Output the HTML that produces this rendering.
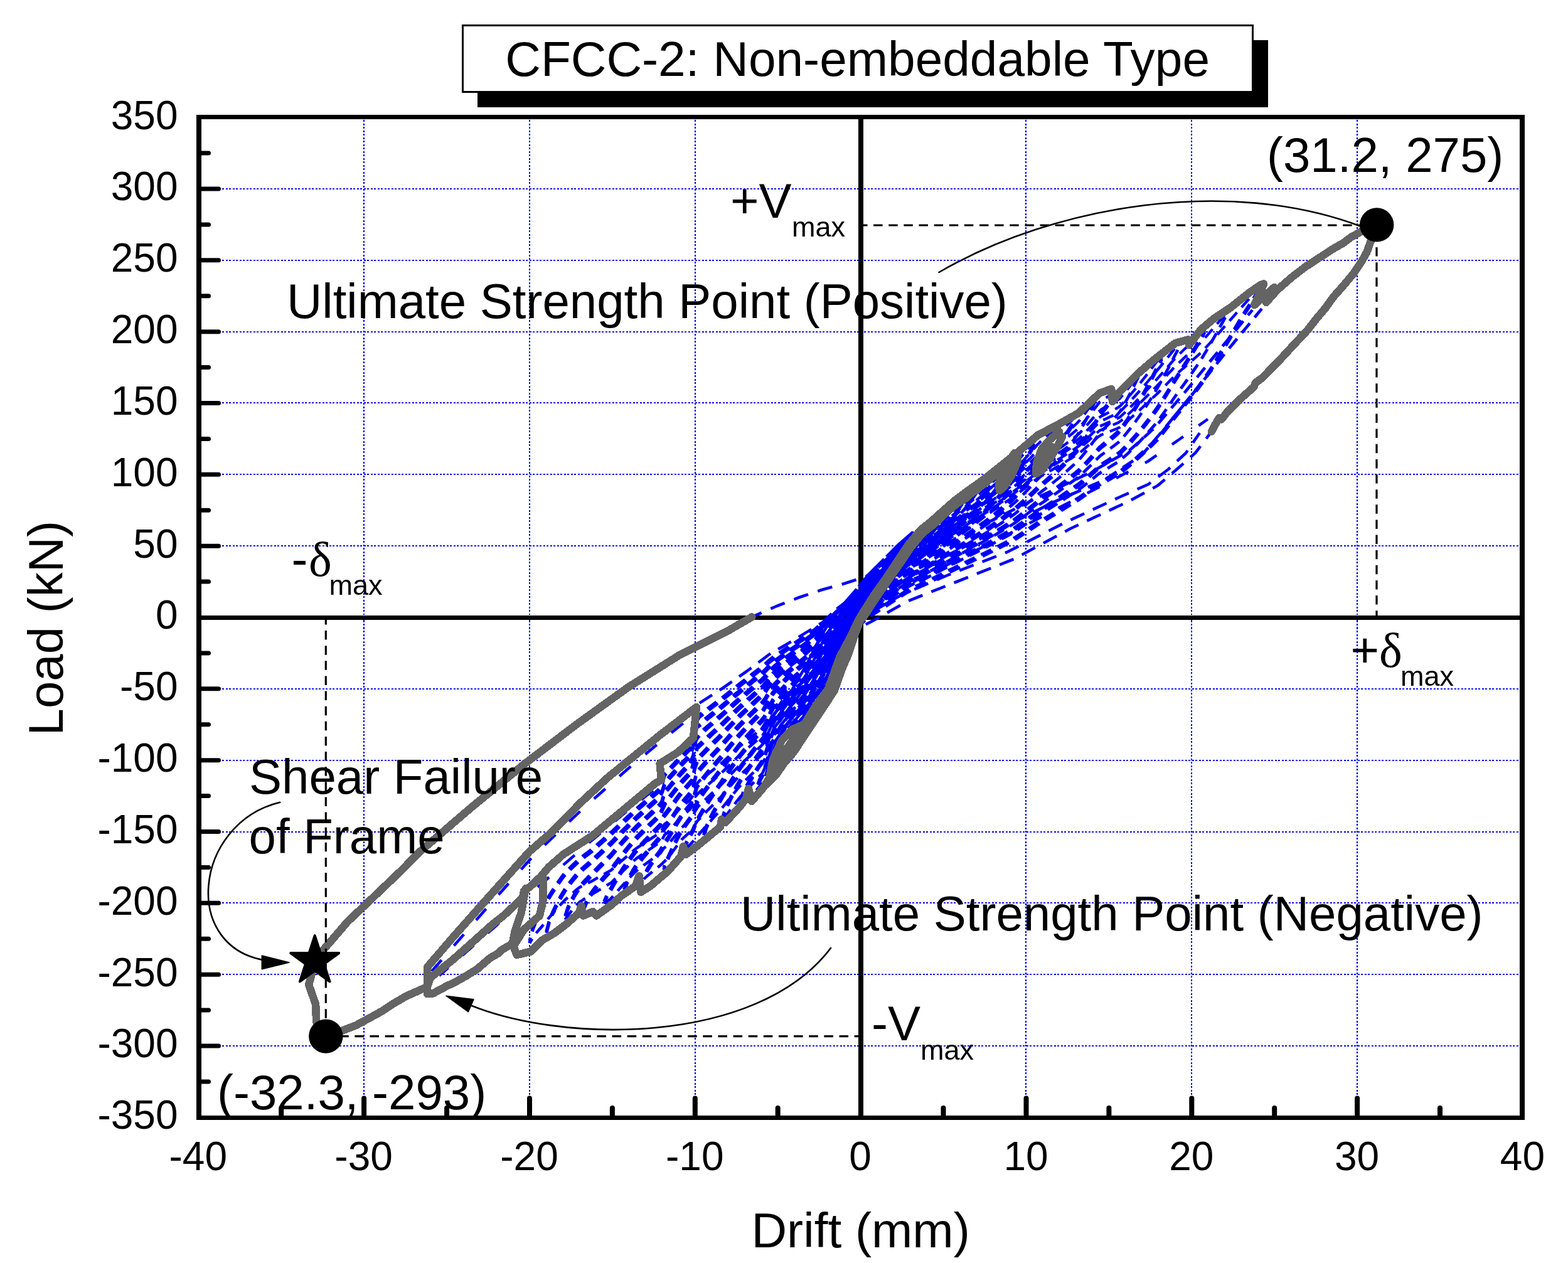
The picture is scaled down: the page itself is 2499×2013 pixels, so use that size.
<!DOCTYPE html>
<html lang="en"><head><meta charset="utf-8"><title>CFCC-2: Non-embeddable Type</title>
<style>html,body{margin:0;padding:0;background:#fff;}svg{display:block;}text{font-family:"Liberation Sans",Arial,sans-serif;fill:#000;}.t78{font-size:78px}.tt{font-size:78.4px}.t64{font-size:64px}.t45{font-size:45px}.sy{font-family:"Liberation Serif","DejaVu Serif",serif;font-size:78px}</style></head><body>
<svg xmlns="http://www.w3.org/2000/svg" width="2499" height="2013" viewBox="0 0 2499 2013">
<rect x="0" y="0" width="2499" height="2013" fill="#fff"/>
<path d="M580 191.0V1746.5M844 191.0V1746.5M1108 191.0V1746.5M1635 191.0V1746.5M1899 191.0V1746.5M2163 191.0V1746.5M354.0 1667H2422.0M354.0 1553H2422.0M354.0 1439H2422.0M354.0 1326H2422.0M354.0 1212H2422.0M354.0 1098H2422.0M354.0 870H2422.0M354.0 756H2422.0M354.0 642H2422.0M354.0 529H2422.0M354.0 415H2422.0M354.0 301H2422.0" fill="none" stroke="#0000ff" stroke-width="2" stroke-dasharray="3 2.5" shape-rendering="crispEdges"/>
<rect x="317.0" y="981" width="2109.0" height="7" fill="#000"/><rect x="1368" y="186.5" width="8" height="1595.0" fill="#000"/>
<g fill="none" stroke="#0000ff" stroke-width="4.6" stroke-linejoin="round">
<path d="M1403.3 903.5L1398.3 910.4L1393.3 917.0L1388.3 923.3L1383.3 929.3L1378.3 942.2L1373.3 957.0" stroke-dasharray="18 11" stroke-dashoffset="18" stroke-width="4.8"/>
<path d="M1403.3 907.5L1398.3 914.4L1393.3 921.0L1388.3 927.3L1383.3 933.3L1378.3 946.2L1373.3 961.0" stroke-dasharray="18 11" stroke-dashoffset="21" stroke-width="4.4"/>
<path d="M1398.0 908.6L1393.0 914.2L1388.0 919.7L1383.0 925.1L1378.0 938.6L1373.0 954.0" stroke-dasharray="18 11" stroke-dashoffset="22" stroke-width="4.4"/>
<path d="M1424.4 881.9L1419.4 889.6L1414.4 896.9L1409.4 903.8L1404.4 910.0L1399.4 916.0L1394.4 921.8L1389.4 927.3L1384.4 932.7L1379.4 942.6L1374.4 956.5" stroke-dasharray="18 11" stroke-dashoffset="23" stroke-width="4.8"/>
<path d="M1419.1 887.4L1414.1 893.6L1409.1 899.6L1404.1 905.1L1399.1 910.5L1394.1 915.8L1389.1 921.0L1384.1 926.2L1379.1 937.1L1374.1 952.0" stroke-dasharray="18 11" stroke-dashoffset="27" stroke-width="4.4"/>
<path d="M1445.5 862.6L1440.5 869.6L1435.5 876.3L1430.5 882.7L1425.5 889.5L1420.5 896.1L1415.5 902.5L1410.5 908.6L1405.5 914.2L1400.5 919.6L1395.5 924.9L1390.5 930.1L1385.5 935.1L1380.5 942.5L1375.5 955.7" stroke-dasharray="18 11" stroke-dashoffset="21" stroke-width="4.8"/>
<path d="M1445.5 866.6L1440.5 873.6L1435.5 880.3L1430.5 886.7L1425.5 893.5L1420.5 900.1L1415.5 906.5L1410.5 912.6L1405.5 918.2L1400.5 923.6L1395.5 928.9L1390.5 934.1L1385.5 939.1L1380.5 946.5L1375.5 959.7" stroke-dasharray="18 11" stroke-dashoffset="24" stroke-width="4.4"/>
<path d="M1440.2 867.1L1435.2 872.5L1430.2 877.8L1425.2 883.8L1420.2 889.7L1415.2 895.5L1410.2 901.3L1405.2 906.5L1400.2 911.7L1395.2 916.8L1390.2 921.9L1385.2 926.9L1380.2 935.3L1375.2 949.9" stroke-dasharray="18 11" stroke-dashoffset="27" stroke-width="4.4"/>
<path d="M1466.6 850.0L1461.6 854.7L1456.6 859.6L1451.6 865.7L1446.6 871.5L1441.6 877.3L1436.6 883.1L1431.6 888.7L1426.6 894.6L1421.6 900.5L1416.6 906.3L1411.6 911.9L1406.6 917.2L1401.6 922.2L1396.6 927.2L1391.6 932.0L1386.6 936.8L1381.6 942.2L1376.6 954.8L1371.6 966.4" stroke-dasharray="18 11" stroke-dashoffset="1" stroke-width="4.8"/>
<path d="M1461.3 851.8L1456.3 855.4L1451.3 860.3L1446.3 865.0L1441.3 870.0L1436.3 875.1L1431.3 880.0L1426.3 885.5L1421.3 891.2L1416.3 896.8L1411.3 902.3L1406.3 907.5L1401.3 912.5L1396.3 917.5L1391.3 922.4L1386.3 927.3L1381.3 933.4L1376.3 947.7" stroke-dasharray="18 11" stroke-dashoffset="14" stroke-width="4.4"/>
<path d="M1490.4 830.6L1485.4 838.3L1480.4 845.1L1475.4 851.6L1470.4 857.7L1465.4 862.8L1460.4 866.4L1455.4 870.8L1450.4 875.8L1445.4 880.6L1440.4 885.8L1435.4 890.9L1430.4 895.8L1425.4 901.3L1420.4 906.7L1415.4 912.0L1410.4 917.2L1405.4 922.0L1400.4 926.8L1395.4 931.4L1390.4 936.1L1385.4 940.6L1380.4 947.6L1375.4 959.8" stroke-dasharray="18 11" stroke-dashoffset="27" stroke-width="4.8"/>
<path d="M1490.4 834.6L1485.4 842.3L1480.4 849.1L1475.4 855.6L1470.4 861.7L1465.4 866.8L1460.4 870.4L1455.4 874.8L1450.4 879.8L1445.4 884.6L1440.4 889.8L1435.4 894.9L1430.4 899.8L1425.4 905.3L1420.4 910.7L1415.4 916.0L1410.4 921.2L1405.4 926.0L1400.4 930.8L1395.4 935.4L1390.4 940.1L1385.4 944.6L1380.4 951.6L1375.4 963.8" stroke-dasharray="18 11" stroke-dashoffset="30" stroke-width="4.4"/>
<path d="M1485.1 835.3L1480.1 840.6L1475.1 845.7L1470.1 850.7L1465.1 854.7L1460.1 857.3L1455.1 861.0L1450.1 865.5L1445.1 869.9L1440.1 874.7L1435.1 879.4L1430.1 884.1L1425.1 889.6L1420.1 895.0L1415.1 900.4L1410.1 905.7L1405.1 910.6L1400.1 915.5L1395.1 920.3L1390.1 925.1L1385.1 929.9L1380.1 938.2L1375.1 952.2" stroke-dasharray="18 11" stroke-dashoffset="19" stroke-width="4.4"/>
<path d="M1514.1 810.1L1509.1 817.8L1504.1 825.0L1499.1 832.3L1494.1 839.1L1489.1 845.6L1484.1 851.7L1479.1 857.2L1474.1 862.5L1469.1 867.6L1464.1 871.5L1459.1 874.5L1454.1 878.6L1449.1 883.0L1444.1 887.4L1439.1 892.2L1434.1 896.8L1429.1 901.5L1424.1 906.6L1419.1 911.7L1414.1 916.7L1409.1 921.6L1404.1 926.1L1399.1 930.7L1394.1 935.2L1389.1 939.6L1384.1 944.0L1379.1 952.6L1374.1 964.3" stroke-dasharray="18 11" stroke-dashoffset="26" stroke-width="4.8"/>
<path d="M1508.8 814.4L1503.8 819.9L1498.8 825.6L1493.8 831.2L1488.8 836.6L1483.8 841.8L1478.8 846.6L1473.8 851.3L1468.8 855.9L1463.8 859.0L1458.8 861.4L1453.8 865.4L1448.8 869.6L1443.8 873.9L1438.8 878.5L1433.8 883.0L1428.8 887.8L1423.8 893.1L1418.8 898.3L1413.8 903.5L1408.8 908.6L1403.8 913.4L1398.8 918.2L1393.8 922.9L1388.8 927.6L1383.8 932.3L1378.8 942.8L1373.8 956.5" stroke-dasharray="18 11" stroke-dashoffset="3" stroke-width="4.4"/>
<path d="M1540.5 788.7L1535.5 796.7L1530.5 804.3L1525.5 811.5L1520.5 818.3L1515.5 824.8L1510.5 830.9L1505.5 836.8L1500.5 842.7L1495.5 848.4L1490.5 854.0L1485.5 859.3L1480.5 864.1L1475.5 868.7L1470.5 873.2L1465.5 877.1L1460.5 879.7L1455.5 883.1L1450.5 887.1L1445.5 891.0L1440.5 895.4L1435.5 899.8L1430.5 904.1L1425.5 909.0L1420.5 913.8L1415.5 918.6L1410.5 923.3L1405.5 927.8L1400.5 932.2L1395.5 936.5L1390.5 940.8L1385.5 945.1L1380.5 951.5L1375.5 962.7" stroke-dasharray="18 11" stroke-dashoffset="14" stroke-width="4.8"/>
<path d="M1540.5 792.7L1535.5 800.7L1530.5 808.3L1525.5 815.5L1520.5 822.3L1515.5 828.8L1510.5 834.9L1505.5 840.8L1500.5 846.7L1495.5 852.4L1490.5 858.0L1485.5 863.3L1480.5 868.1L1475.5 872.7L1470.5 877.2L1465.5 881.1L1460.5 883.7L1455.5 887.1L1450.5 891.1L1445.5 895.0L1440.5 899.4L1435.5 903.8L1430.5 908.1L1425.5 913.0L1420.5 917.8L1415.5 922.6L1410.5 927.3L1405.5 931.8L1400.5 936.2L1395.5 940.5L1390.5 944.8L1385.5 949.1L1380.5 955.5L1375.5 966.7" stroke-dasharray="18 11" stroke-dashoffset="17" stroke-width="4.4"/>
<path d="M1535.2 793.0L1530.2 798.6L1525.2 804.0L1520.2 809.3L1515.2 814.5L1510.2 819.6L1505.2 824.5L1500.2 829.7L1495.2 834.8L1490.2 839.9L1485.2 844.8L1480.2 849.3L1475.2 853.7L1470.2 858.1L1465.2 861.6L1460.2 863.9L1455.2 867.1L1450.2 871.1L1445.2 875.2L1440.2 879.6L1435.2 884.1L1430.2 888.5L1425.2 893.6L1420.2 898.7L1415.2 903.9L1410.2 908.9L1405.2 913.7L1400.2 918.3L1395.2 923.0L1390.2 927.6L1385.2 932.3L1380.2 940.1L1375.2 953.6" stroke-dasharray="18 11" stroke-dashoffset="7" stroke-width="4.4"/>
<path d="M1566.9 769.4L1561.9 777.4L1556.9 784.9L1551.9 792.0L1546.9 798.7L1541.9 805.1L1536.9 811.6L1531.9 817.7L1526.9 823.6L1521.9 829.3L1516.9 834.8L1511.9 840.0L1506.9 845.0L1501.9 850.1L1496.9 855.1L1491.9 860.0L1486.9 864.8L1481.9 869.2L1476.9 873.4L1471.9 877.5L1466.9 881.5L1461.9 883.9L1456.9 886.6L1451.9 890.3L1446.9 894.0L1441.9 898.1L1436.9 902.3L1431.9 906.4L1426.9 910.9L1421.9 915.6L1416.9 920.2L1411.9 924.8L1406.9 929.2L1401.9 933.5L1396.9 937.7L1391.9 941.9L1386.9 946.1L1381.9 950.5L1376.9 961.3L1371.9 971.8" stroke-dasharray="18 11" stroke-dashoffset="16" stroke-width="4.8"/>
<path d="M1561.6 773.2L1556.6 778.5L1551.6 783.7L1546.6 788.7L1541.6 793.6L1536.6 798.8L1531.6 803.9L1526.6 808.8L1521.6 813.7L1516.6 818.5L1511.6 823.2L1506.6 827.8L1501.6 832.6L1496.6 837.5L1491.6 842.3L1486.6 847.0L1481.6 851.3L1476.6 855.6L1471.6 859.8L1466.6 863.7L1461.6 865.8L1456.6 868.5L1451.6 872.4L1446.6 876.2L1441.6 880.5L1436.6 884.8L1431.6 889.1L1426.6 894.0L1421.6 899.0L1416.6 904.0L1411.6 909.0L1406.6 913.8L1401.6 918.4L1396.6 923.0L1391.6 927.6L1386.6 932.2L1381.6 937.4L1376.6 950.8L1371.6 963.0" stroke-dasharray="18 11" stroke-dashoffset="17" stroke-width="4.4"/>
<path d="M1593.2 749.1L1588.2 757.8L1583.2 766.0L1578.2 773.7L1573.2 780.7L1568.2 787.4L1563.2 793.8L1558.2 799.9L1553.2 805.7L1548.2 811.3L1543.2 816.6L1538.2 822.0L1533.2 827.3L1528.2 832.4L1523.2 837.3L1518.2 842.1L1513.2 846.7L1508.2 851.2L1503.2 855.7L1498.2 860.2L1493.2 864.7L1488.2 869.1L1483.2 873.2L1478.2 877.2L1473.2 881.0L1468.2 884.8L1463.2 887.4L1458.2 889.7L1453.2 893.1L1448.2 896.6L1443.2 900.4L1438.2 904.5L1433.2 908.5L1428.2 912.7L1423.2 917.2L1418.2 921.7L1413.2 926.2L1408.2 930.5L1403.2 934.7L1398.2 938.9L1393.2 943.0L1388.2 947.1L1383.2 951.2L1378.2 960.1L1373.2 970.5" stroke-dasharray="18 11" stroke-dashoffset="0" stroke-width="4.8"/>
<path d="M1593.2 753.1L1588.2 761.8L1583.2 770.0L1578.2 777.7L1573.2 784.7L1568.2 791.4L1563.2 797.8L1558.2 803.9L1553.2 809.7L1548.2 815.3L1543.2 820.6L1538.2 826.0L1533.2 831.3L1528.2 836.4L1523.2 841.3L1518.2 846.1L1513.2 850.7L1508.2 855.2L1503.2 859.7L1498.2 864.2L1493.2 868.7L1488.2 873.1L1483.2 877.2L1478.2 881.2L1473.2 885.0L1468.2 888.8L1463.2 891.4L1458.2 893.7L1453.2 897.1L1448.2 900.6L1443.2 904.4L1438.2 908.5L1433.2 912.5L1428.2 916.7L1423.2 921.2L1418.2 925.7L1413.2 930.2L1408.2 934.5L1403.2 938.7L1398.2 942.9L1393.2 947.0L1388.2 951.1L1383.2 955.2L1378.2 964.1L1373.2 974.5" stroke-dasharray="18 11" stroke-dashoffset="3" stroke-width="4.4"/>
<path d="M1588.0 753.3L1583.0 759.1L1578.0 764.7L1573.0 769.9L1568.0 774.9L1563.0 779.8L1558.0 784.6L1553.0 789.3L1548.0 793.9L1543.0 798.4L1538.0 803.0L1533.0 807.8L1528.0 812.4L1523.0 817.0L1518.0 821.5L1513.0 826.0L1508.0 830.4L1503.0 834.8L1498.0 839.5L1493.0 844.1L1488.0 848.6L1483.0 852.9L1478.0 857.0L1473.0 861.1L1468.0 865.1L1463.0 867.5L1458.0 869.6L1453.0 873.3L1448.0 877.1L1443.0 881.1L1438.0 885.4L1433.0 889.7L1428.0 894.2L1423.0 899.2L1418.0 904.1L1413.0 909.1L1408.0 913.9L1403.0 918.4L1398.0 923.0L1393.0 927.5L1388.0 932.0L1383.0 936.5L1378.0 948.0L1373.0 961.1" stroke-dasharray="18 11" stroke-dashoffset="6" stroke-width="4.4"/>
<path d="M1619.6 727.9L1614.6 737.0L1609.6 745.6L1604.6 753.7L1599.6 761.4L1594.6 768.7L1589.6 775.7L1584.6 782.4L1579.6 788.8L1574.6 794.6L1569.6 800.2L1564.6 805.6L1559.6 810.8L1554.6 815.7L1549.6 820.5L1544.6 825.2L1539.6 829.8L1534.6 834.5L1529.6 839.1L1524.6 843.5L1519.6 847.8L1514.6 852.0L1509.6 856.2L1504.6 860.2L1499.6 864.4L1494.6 868.6L1489.6 872.7L1484.6 876.7L1479.6 880.4L1474.6 884.0L1469.6 887.6L1464.6 890.5L1459.6 892.7L1454.6 895.6L1449.6 899.0L1444.6 902.5L1439.6 906.4L1434.6 910.4L1429.6 914.3L1424.6 918.7L1419.6 923.1L1414.6 927.5L1409.6 931.8L1404.6 935.9L1399.6 940.0L1394.6 944.0L1389.6 948.1L1384.6 952.1L1379.6 959.0L1374.6 969.0" stroke-dasharray="18 11" stroke-dashoffset="8" stroke-width="4.8"/>
<path d="M1614.4 732.2L1609.4 738.1L1604.4 743.9L1599.4 749.5L1594.4 755.0L1589.4 760.4L1584.4 765.7L1579.4 770.8L1574.4 775.6L1569.4 780.2L1564.4 784.7L1559.4 789.1L1554.4 793.5L1549.4 797.8L1544.4 802.0L1539.4 806.3L1534.4 810.8L1529.4 815.2L1524.4 819.6L1519.4 823.9L1514.4 828.2L1509.4 832.4L1504.4 836.6L1499.4 841.1L1494.4 845.5L1489.4 849.9L1484.4 854.2L1479.4 858.2L1474.4 862.1L1469.4 866.0L1464.4 868.9L1459.4 870.9L1454.4 874.2L1449.4 877.9L1444.4 881.7L1439.4 885.9L1434.4 890.1L1429.4 894.4L1424.4 899.3L1419.4 904.2L1414.4 909.1L1409.4 913.9L1404.4 918.4L1399.4 922.9L1394.4 927.4L1389.4 931.9L1384.4 936.4L1379.4 945.3L1374.4 958.2" stroke-dasharray="18 11" stroke-dashoffset="27" stroke-width="4.4"/>
<path d="M1651.3 701.0L1646.3 710.6L1641.3 719.8L1636.3 728.6L1631.3 736.9L1626.3 745.0L1621.3 752.6L1616.3 759.9L1611.3 766.7L1606.3 773.1L1601.3 779.3L1596.3 785.2L1591.3 790.9L1586.3 796.4L1581.3 801.7L1576.3 806.8L1571.3 811.5L1566.3 816.1L1561.3 820.5L1556.3 824.8L1551.3 829.1L1546.3 833.2L1541.3 837.2L1536.3 841.4L1531.3 845.5L1526.3 849.5L1521.3 853.4L1516.3 857.3L1511.3 861.1L1506.3 864.9L1501.3 868.7L1496.3 872.6L1491.3 876.4L1486.3 880.2L1481.3 883.8L1476.3 887.2L1471.3 890.6L1466.3 893.8L1461.3 895.9L1456.3 898.4L1451.3 901.6L1446.3 904.9L1441.3 908.7L1436.3 912.5L1431.3 916.3L1426.3 920.4L1421.3 924.7L1416.3 929.0L1411.3 933.2L1406.3 937.3L1401.3 941.2L1396.3 945.2L1391.3 949.2L1386.3 953.1L1381.3 957.9L1376.3 967.5" stroke-dasharray="18 11" stroke-dashoffset="22" stroke-width="4.8"/>
<path d="M1651.3 705.0L1646.3 714.6L1641.3 723.8L1636.3 732.6L1631.3 740.9L1626.3 749.0L1621.3 756.6L1616.3 763.9L1611.3 770.7L1606.3 777.1L1601.3 783.3L1596.3 789.2L1591.3 794.9L1586.3 800.4L1581.3 805.7L1576.3 810.8L1571.3 815.5L1566.3 820.1L1561.3 824.5L1556.3 828.8L1551.3 833.1L1546.3 837.2L1541.3 841.2L1536.3 845.4L1531.3 849.5L1526.3 853.5L1521.3 857.4L1516.3 861.3L1511.3 865.1L1506.3 868.9L1501.3 872.7L1496.3 876.6L1491.3 880.4L1486.3 884.2L1481.3 887.8L1476.3 891.2L1471.3 894.6L1466.3 897.8L1461.3 899.9L1456.3 902.4L1451.3 905.6L1446.3 908.9L1441.3 912.7L1436.3 916.5L1431.3 920.3L1426.3 924.4L1421.3 928.7L1416.3 933.0L1411.3 937.2L1406.3 941.3L1401.3 945.2L1396.3 949.2L1391.3 953.2L1386.3 957.1L1381.3 961.9L1376.3 971.5" stroke-dasharray="18 11" stroke-dashoffset="25" stroke-width="4.4"/>
<path d="M1646.0 705.5L1641.0 711.8L1636.0 717.9L1631.0 724.0L1626.0 729.9L1621.0 735.7L1616.0 741.3L1611.0 746.6L1606.0 751.8L1601.0 756.8L1596.0 761.8L1591.0 766.7L1586.0 771.5L1581.0 776.2L1576.0 780.7L1571.0 785.0L1566.0 789.2L1561.0 793.3L1556.0 797.4L1551.0 801.5L1546.0 805.4L1541.0 809.4L1536.0 813.7L1531.0 817.9L1526.0 822.0L1521.0 826.2L1516.0 830.3L1511.0 834.3L1506.0 838.4L1501.0 842.6L1496.0 846.9L1491.0 851.2L1486.0 855.5L1481.0 859.4L1476.0 863.2L1471.0 867.0L1466.0 870.4L1461.0 872.4L1456.0 875.0L1451.0 878.7L1446.0 882.3L1441.0 886.4L1436.0 890.5L1431.0 894.7L1426.0 899.3L1421.0 904.2L1416.0 909.0L1411.0 913.8L1406.0 918.3L1401.0 922.8L1396.0 927.3L1391.0 931.7L1386.0 936.1L1381.0 942.2L1376.0 954.9" stroke-dasharray="18 11" stroke-dashoffset="5" stroke-width="4.4"/>
<path d="M1682.9 683.4L1677.9 691.6L1672.9 699.4L1667.9 706.8L1662.9 714.0L1657.9 720.9L1652.9 727.8L1647.9 735.5L1642.9 742.9L1637.9 749.9L1632.9 756.8L1627.9 763.4L1622.9 769.7L1617.9 775.9L1612.9 781.6L1607.9 787.0L1602.9 792.2L1597.9 797.2L1592.9 802.1L1587.9 806.9L1582.9 811.5L1577.9 816.0L1572.9 820.1L1567.9 824.2L1562.9 828.1L1557.9 832.0L1552.9 835.8L1547.9 839.6L1542.9 843.2L1537.9 847.0L1532.9 850.8L1527.9 854.5L1522.9 858.2L1517.9 861.8L1512.9 865.4L1507.9 868.9L1502.9 872.5L1497.9 876.1L1492.9 879.8L1487.9 883.4L1482.9 886.9L1477.9 890.2L1472.9 893.5L1467.9 896.7L1462.9 899.0L1457.9 901.0L1452.9 904.1L1447.9 907.2L1442.9 910.8L1437.9 914.5L1432.9 918.2L1427.9 922.1L1422.9 926.3L1417.9 930.4L1412.9 934.6L1407.9 938.6L1402.9 942.5L1397.9 946.4L1392.9 950.3L1387.9 954.2L1382.9 958.0L1377.9 966.3L1372.9 975.5" stroke-dasharray="18 11" stroke-dashoffset="23" stroke-width="4.8"/>
<path d="M1677.7 686.2L1672.7 691.0L1667.7 695.6L1662.7 700.2L1657.7 704.6L1652.7 709.5L1647.7 715.3L1642.7 721.0L1637.7 726.6L1632.7 732.0L1627.7 737.4L1622.7 742.7L1617.7 748.0L1612.7 752.9L1607.7 757.6L1602.7 762.3L1597.7 766.9L1592.7 771.5L1587.7 776.0L1582.7 780.4L1577.7 784.8L1572.7 788.8L1567.7 792.7L1562.7 796.7L1557.7 800.6L1552.7 804.4L1547.7 808.2L1542.7 812.0L1537.7 816.0L1532.7 820.0L1527.7 824.1L1522.7 828.1L1517.7 832.0L1512.7 836.0L1507.7 839.9L1502.7 843.9L1497.7 848.1L1492.7 852.3L1487.7 856.4L1482.7 860.4L1477.7 864.1L1472.7 867.9L1467.7 871.6L1462.7 873.8L1457.7 875.8L1452.7 879.4L1447.7 882.9L1442.7 886.8L1437.7 890.9L1432.7 895.0L1427.7 899.4L1422.7 904.2L1417.7 908.9L1412.7 913.7L1407.7 918.3L1402.7 922.7L1397.7 927.1L1392.7 931.5L1387.7 935.9L1382.7 940.2L1377.7 951.6L1372.7 964.1" stroke-dasharray="18 11" stroke-dashoffset="4" stroke-width="4.4"/>
<path d="M1714.6 665.8L1709.6 674.2L1704.6 682.3L1699.6 690.1L1694.6 697.5L1689.6 704.6L1684.6 711.3L1679.6 717.7L1674.6 723.9L1669.6 730.0L1664.6 735.8L1659.6 741.4L1654.6 746.8L1649.6 753.1L1644.6 759.3L1639.6 765.3L1634.6 771.2L1629.6 776.9L1624.6 782.4L1619.6 787.7L1614.6 792.8L1609.6 797.5L1604.6 802.1L1599.6 806.5L1594.6 810.9L1589.6 815.1L1584.6 819.3L1579.6 823.3L1574.6 827.2L1569.6 830.9L1564.6 834.5L1559.6 838.1L1554.6 841.6L1549.6 845.0L1544.6 848.5L1539.6 851.9L1534.6 855.5L1529.6 859.0L1524.6 862.4L1519.6 865.8L1514.6 869.2L1509.6 872.6L1504.6 875.9L1499.6 879.4L1494.6 882.9L1489.6 886.4L1484.6 889.8L1479.6 893.0L1474.6 896.1L1469.6 899.3L1464.6 901.9L1459.6 903.9L1454.6 906.6L1449.6 909.6L1444.6 912.8L1439.6 916.5L1434.6 920.1L1429.6 923.8L1424.6 927.8L1419.6 931.9L1414.6 936.0L1409.6 940.0L1404.6 943.8L1399.6 947.6L1394.6 951.5L1389.6 955.3L1384.6 959.0L1379.6 965.2L1374.6 974.1" stroke-dasharray="18 11" stroke-dashoffset="18" stroke-width="4.8"/>
<path d="M1714.6 669.8L1709.6 678.2L1704.6 686.3L1699.6 694.1L1694.6 701.5L1689.6 708.6L1684.6 715.3L1679.6 721.7L1674.6 727.9L1669.6 734.0L1664.6 739.8L1659.6 745.4L1654.6 750.8L1649.6 757.1L1644.6 763.3L1639.6 769.3L1634.6 775.2L1629.6 780.9L1624.6 786.4L1619.6 791.7L1614.6 796.8L1609.6 801.5L1604.6 806.1L1599.6 810.5L1594.6 814.9L1589.6 819.1L1584.6 823.3L1579.6 827.3L1574.6 831.2L1569.6 834.9L1564.6 838.5L1559.6 842.1L1554.6 845.6L1549.6 849.0L1544.6 852.5L1539.6 855.9L1534.6 859.5L1529.6 863.0L1524.6 866.4L1519.6 869.8L1514.6 873.2L1509.6 876.6L1504.6 879.9L1499.6 883.4L1494.6 886.9L1489.6 890.4L1484.6 893.8L1479.6 897.0L1474.6 900.1L1469.6 903.3L1464.6 905.9L1459.6 907.9L1454.6 910.6L1449.6 913.6L1444.6 916.8L1439.6 920.5L1434.6 924.1L1429.6 927.8L1424.6 931.8L1419.6 935.9L1414.6 940.0L1409.6 944.0L1404.6 947.8L1399.6 951.6L1394.6 955.5L1389.6 959.3L1384.6 963.0L1379.6 969.2L1374.6 978.1" stroke-dasharray="18 11" stroke-dashoffset="21" stroke-width="4.4"/>
<path d="M1709.3 668.8L1704.3 673.8L1699.3 678.7L1694.3 683.5L1689.3 688.1L1684.3 692.5L1679.3 696.8L1674.3 701.1L1669.3 705.2L1664.3 709.3L1659.3 713.4L1654.3 717.3L1649.3 722.6L1644.3 727.9L1639.3 733.0L1634.3 738.1L1629.3 743.2L1624.3 748.1L1619.3 753.1L1614.3 757.7L1609.3 762.2L1604.3 766.6L1599.3 771.0L1594.3 775.3L1589.3 779.6L1584.3 783.8L1579.3 788.0L1574.3 791.8L1569.3 795.6L1564.3 799.4L1559.3 803.2L1554.3 806.9L1549.3 810.5L1544.3 814.2L1539.3 817.9L1534.3 821.9L1529.3 825.8L1524.3 829.7L1519.3 833.5L1514.3 837.4L1509.3 841.2L1504.3 845.0L1499.3 849.1L1494.3 853.2L1489.3 857.3L1484.3 861.3L1479.3 865.0L1474.3 868.6L1469.3 872.3L1464.3 875.0L1459.3 876.9L1454.3 880.0L1449.3 883.5L1444.3 887.2L1439.3 891.2L1434.3 895.3L1429.3 899.4L1424.3 904.1L1419.3 908.8L1414.3 913.5L1409.3 918.2L1404.3 922.6L1399.3 926.9L1394.3 931.3L1389.3 935.6L1384.3 940.0L1379.3 948.5L1374.3 960.8" stroke-dasharray="18 11" stroke-dashoffset="4" stroke-width="4.4"/>
<path d="M1746.3 637.6L1741.3 648.3L1736.3 658.6L1731.3 668.3L1726.3 677.7L1721.3 686.6L1716.3 694.2L1711.3 700.9L1706.3 707.4L1701.3 713.6L1696.3 719.7L1691.3 725.6L1686.3 731.2L1681.3 736.5L1676.3 741.8L1671.3 746.8L1666.3 751.8L1661.3 756.6L1656.3 761.3L1651.3 766.4L1646.3 771.8L1641.3 777.1L1636.3 782.3L1631.3 787.4L1626.3 792.3L1621.3 797.2L1616.3 801.9L1611.3 806.1L1606.3 810.2L1601.3 814.2L1596.3 818.2L1591.3 822.0L1586.3 825.8L1581.3 829.6L1576.3 833.2L1571.3 836.6L1566.3 840.0L1561.3 843.4L1556.3 846.7L1551.3 849.9L1546.3 853.2L1541.3 856.3L1536.3 859.7L1531.3 863.0L1526.3 866.3L1521.3 869.6L1516.3 872.9L1511.3 876.1L1506.3 879.3L1501.3 882.6L1496.3 885.9L1491.3 889.2L1486.3 892.5L1481.3 895.7L1476.3 898.7L1471.3 901.8L1466.3 904.6L1461.3 906.6L1456.3 908.9L1451.3 911.9L1446.3 914.9L1441.3 918.4L1436.3 922.0L1431.3 925.5L1426.3 929.4L1421.3 933.4L1416.3 937.4L1411.3 941.3L1406.3 945.1L1401.3 948.9L1396.3 952.6L1391.3 956.4L1386.3 960.1L1381.3 964.5L1376.3 972.9" stroke-dasharray="18 11" stroke-dashoffset="0" stroke-width="4.8"/>
<path d="M1741.0 642.6L1736.0 649.6L1731.0 656.5L1726.0 663.2L1721.0 669.7L1716.0 675.0L1711.0 679.6L1706.0 684.0L1701.0 688.4L1696.0 692.8L1691.0 697.0L1686.0 701.0L1681.0 705.0L1676.0 708.8L1671.0 712.7L1666.0 716.4L1661.0 720.2L1656.0 723.8L1651.0 728.3L1646.0 733.3L1641.0 738.2L1636.0 743.0L1631.0 747.7L1626.0 752.5L1621.0 757.1L1616.0 761.7L1611.0 766.0L1606.0 770.2L1601.0 774.3L1596.0 778.5L1591.0 782.5L1586.0 786.6L1581.0 790.6L1576.0 794.5L1571.0 798.1L1566.0 801.8L1561.0 805.4L1556.0 809.0L1551.0 812.6L1546.0 816.1L1541.0 819.7L1536.0 823.5L1531.0 827.3L1526.0 831.1L1521.0 834.9L1516.0 838.7L1511.0 842.4L1506.0 846.1L1501.0 850.1L1496.0 854.1L1491.0 858.1L1486.0 862.1L1481.0 865.7L1476.0 869.4L1471.0 873.0L1466.0 876.2L1461.0 878.1L1456.0 880.7L1451.0 884.1L1446.0 887.6L1441.0 891.5L1436.0 895.5L1431.0 899.5L1426.0 904.1L1421.0 908.7L1416.0 913.4L1411.0 918.1L1406.0 922.4L1401.0 926.8L1396.0 931.1L1391.0 935.4L1386.0 939.7L1381.0 945.6L1376.0 957.6" stroke-dasharray="18 11" stroke-dashoffset="25" stroke-width="4.4"/>
<path d="M1777.9 626.3L1772.9 633.4L1767.9 640.2L1762.9 646.8L1757.9 653.2L1752.9 659.4L1747.9 668.2L1742.9 676.8L1737.9 685.1L1732.9 693.0L1727.9 700.7L1722.9 708.1L1717.9 714.8L1712.9 720.4L1707.9 725.8L1702.9 731.1L1697.9 736.3L1692.9 741.3L1687.9 746.2L1682.9 750.8L1677.9 755.4L1672.9 759.9L1667.9 764.2L1662.9 768.5L1657.9 772.7L1652.9 777.0L1647.9 781.9L1642.9 786.7L1637.9 791.4L1632.9 796.0L1627.9 800.5L1622.9 805.0L1617.9 809.4L1612.9 813.4L1607.9 817.1L1602.9 820.9L1597.9 824.5L1592.9 828.1L1587.9 831.7L1582.9 835.1L1577.9 838.6L1572.9 841.8L1567.9 845.0L1562.9 848.2L1557.9 851.3L1552.9 854.4L1547.9 857.5L1542.9 860.5L1537.9 863.7L1532.9 866.9L1527.9 870.0L1522.9 873.2L1517.9 876.3L1512.9 879.4L1507.9 882.5L1502.9 885.6L1497.9 888.8L1492.9 892.0L1487.9 895.2L1482.9 898.3L1477.9 901.3L1472.9 904.2L1467.9 907.2L1462.9 909.3L1457.9 911.3L1452.9 914.2L1447.9 917.0L1442.9 920.3L1437.9 923.8L1432.9 927.4L1427.9 931.0L1422.9 934.9L1417.9 938.8L1412.9 942.7L1407.9 946.5L1402.9 950.1L1397.9 953.8L1392.9 957.5L1387.9 961.1L1382.9 964.8L1377.9 972.0L1372.9 980.0" stroke-dasharray="18 11" stroke-dashoffset="6" stroke-width="4.8"/>
<path d="M1777.9 630.3L1772.9 637.4L1767.9 644.2L1762.9 650.8L1757.9 657.2L1752.9 663.4L1747.9 672.2L1742.9 680.8L1737.9 689.1L1732.9 697.0L1727.9 704.7L1722.9 712.1L1717.9 718.8L1712.9 724.4L1707.9 729.8L1702.9 735.1L1697.9 740.3L1692.9 745.3L1687.9 750.2L1682.9 754.8L1677.9 759.4L1672.9 763.9L1667.9 768.2L1662.9 772.5L1657.9 776.7L1652.9 781.0L1647.9 785.9L1642.9 790.7L1637.9 795.4L1632.9 800.0L1627.9 804.5L1622.9 809.0L1617.9 813.4L1612.9 817.4L1607.9 821.1L1602.9 824.9L1597.9 828.5L1592.9 832.1L1587.9 835.7L1582.9 839.1L1577.9 842.6L1572.9 845.8L1567.9 849.0L1562.9 852.2L1557.9 855.3L1552.9 858.4L1547.9 861.5L1542.9 864.5L1537.9 867.7L1532.9 870.9L1527.9 874.0L1522.9 877.2L1517.9 880.3L1512.9 883.4L1507.9 886.5L1502.9 889.6L1497.9 892.8L1492.9 896.0L1487.9 899.2L1482.9 902.3L1477.9 905.3L1472.9 908.2L1467.9 911.2L1462.9 913.3L1457.9 915.3L1452.9 918.2L1447.9 921.0L1442.9 924.3L1437.9 927.8L1432.9 931.4L1427.9 935.0L1422.9 938.9L1417.9 942.8L1412.9 946.7L1407.9 950.5L1402.9 954.1L1397.9 957.8L1392.9 961.5L1387.9 965.1L1382.9 968.8L1377.9 976.0L1372.9 984.0" stroke-dasharray="18 11" stroke-dashoffset="9" stroke-width="4.4"/>
<path d="M1772.7 627.4L1767.7 630.8L1762.7 634.1L1757.7 637.4L1752.7 640.6L1747.7 647.2L1742.7 653.7L1737.7 660.0L1732.7 666.2L1727.7 672.4L1722.7 678.4L1717.7 683.7L1712.7 687.9L1707.7 692.0L1702.7 696.0L1697.7 700.0L1692.7 704.0L1687.7 707.7L1682.7 711.4L1677.7 715.0L1672.7 718.6L1667.7 722.2L1662.7 725.7L1657.7 729.1L1652.7 733.0L1647.7 737.7L1642.7 742.3L1637.7 746.9L1632.7 751.5L1627.7 756.0L1622.7 760.5L1617.7 765.0L1612.7 769.1L1607.7 773.2L1602.7 777.2L1597.7 781.2L1592.7 785.1L1587.7 789.0L1582.7 792.9L1577.7 796.8L1572.7 800.3L1567.7 803.9L1562.7 807.4L1557.7 810.9L1552.7 814.4L1547.7 817.9L1542.7 821.3L1537.7 825.0L1532.7 828.7L1527.7 832.4L1522.7 836.1L1517.7 839.8L1512.7 843.5L1507.7 847.2L1502.7 850.9L1497.7 854.9L1492.7 858.8L1487.7 862.7L1482.7 866.5L1477.7 870.0L1472.7 873.6L1467.7 877.2L1462.7 879.2L1457.7 881.3L1452.7 884.7L1447.7 888.1L1442.7 891.8L1437.7 895.8L1432.7 899.8L1427.7 904.0L1422.7 908.7L1417.7 913.3L1412.7 917.9L1407.7 922.3L1402.7 926.6L1397.7 930.9L1392.7 935.2L1387.7 939.5L1382.7 943.7L1377.7 954.6L1372.7 966.4" stroke-dasharray="18 11" stroke-dashoffset="6" stroke-width="4.4"/>
<path d="M1814.9 599.3L1809.9 609.8L1804.9 619.8L1799.9 629.5L1794.9 638.7L1789.9 647.5L1784.9 656.0L1779.9 662.0L1774.9 667.5L1769.9 672.8L1764.9 677.9L1759.9 682.9L1754.9 687.8L1749.9 693.9L1744.9 700.9L1739.9 707.7L1734.9 714.2L1729.9 720.6L1724.9 726.7L1719.9 732.7L1714.9 737.5L1709.9 742.1L1704.9 746.6L1699.9 751.1L1694.9 755.6L1689.9 759.8L1684.9 764.0L1679.9 768.0L1674.9 772.0L1669.9 775.9L1664.9 779.8L1659.9 783.5L1654.9 787.3L1649.9 791.6L1644.9 796.0L1639.9 800.3L1634.9 804.5L1629.9 808.7L1624.9 812.9L1619.9 816.9L1614.9 820.8L1609.9 824.3L1604.9 827.7L1599.9 831.1L1594.9 834.5L1589.9 837.8L1584.9 841.1L1579.9 844.3L1574.9 847.4L1569.9 850.4L1564.9 853.4L1559.9 856.4L1554.9 859.4L1549.9 862.3L1544.9 865.2L1539.9 868.1L1534.9 871.2L1529.9 874.2L1524.9 877.2L1519.9 880.2L1514.9 883.2L1509.9 886.1L1504.9 889.1L1499.9 892.2L1494.9 895.2L1489.9 898.3L1484.9 901.3L1479.9 904.2L1474.9 907.1L1469.9 909.9L1464.9 912.4L1459.9 914.4L1454.9 916.8L1449.9 919.6L1444.9 922.6L1439.9 926.0L1434.9 929.5L1429.9 932.9L1424.9 936.7L1419.9 940.5L1414.9 944.3L1409.9 948.0L1404.9 951.7L1399.9 955.3L1394.9 958.9L1389.9 962.4L1384.9 966.0L1379.9 971.3L1374.9 978.8" stroke-dasharray="18 11" stroke-dashoffset="28" stroke-width="4.8"/>
<path d="M1809.6 603.7L1804.6 610.3L1799.6 616.8L1794.6 623.1L1789.6 629.3L1784.6 635.4L1779.6 638.6L1774.6 641.6L1769.6 644.5L1764.6 647.4L1759.6 650.2L1754.6 653.0L1749.6 657.7L1744.6 663.5L1739.6 669.3L1734.6 675.0L1729.6 680.6L1724.6 686.1L1719.6 691.6L1714.6 695.5L1709.6 699.3L1704.6 703.0L1699.6 706.7L1694.6 710.4L1689.6 714.0L1684.6 717.5L1679.6 720.9L1674.6 724.3L1669.6 727.6L1664.6 731.0L1659.6 734.3L1654.6 737.5L1649.6 741.9L1644.6 746.4L1639.6 750.8L1634.6 755.2L1629.6 759.6L1624.6 763.9L1619.6 768.2L1614.6 772.3L1609.6 776.2L1604.6 780.1L1599.6 784.0L1594.6 787.8L1589.6 791.6L1584.6 795.3L1579.6 799.1L1574.6 802.6L1569.6 806.1L1564.6 809.5L1559.6 812.9L1554.6 816.3L1549.6 819.7L1544.6 823.1L1539.6 826.6L1534.6 830.2L1529.6 833.9L1524.6 837.5L1519.6 841.1L1514.6 844.7L1509.6 848.3L1504.6 851.9L1499.6 855.8L1494.6 859.6L1489.6 863.5L1484.6 867.3L1479.6 870.8L1474.6 874.3L1469.6 877.8L1464.6 880.5L1459.6 882.4L1454.6 885.3L1449.6 888.7L1444.6 892.2L1439.6 896.1L1434.6 900.0L1429.6 904.0L1424.6 908.6L1419.6 913.1L1414.6 917.7L1409.6 922.2L1404.6 926.5L1399.6 930.7L1394.6 935.0L1389.6 939.2L1384.6 943.4L1379.6 951.2L1374.6 962.8" stroke-dasharray="18 11" stroke-dashoffset="25" stroke-width="4.4"/>
<path d="M1851.8 568.5L1846.8 579.1L1841.8 589.3L1836.8 599.3L1831.8 609.0L1826.8 618.4L1821.8 627.5L1816.8 636.2L1811.8 644.5L1806.8 652.6L1801.8 660.3L1796.8 667.8L1791.8 674.9L1786.8 681.8L1781.8 687.5L1776.8 692.0L1771.8 696.3L1766.8 700.5L1761.8 704.7L1756.8 708.7L1751.8 713.0L1746.8 719.0L1741.8 724.7L1736.8 730.3L1731.8 735.8L1726.8 741.1L1721.8 746.3L1716.8 750.9L1711.8 755.0L1706.8 758.9L1701.8 763.0L1696.8 767.0L1691.8 770.9L1686.8 774.7L1681.8 778.4L1676.8 782.0L1671.8 785.6L1666.8 789.2L1661.8 792.7L1656.8 796.2L1651.8 800.0L1646.8 804.0L1641.8 808.0L1636.8 812.0L1631.8 815.9L1626.8 819.8L1621.8 823.7L1616.8 827.5L1611.8 830.8L1606.8 834.0L1601.8 837.2L1596.8 840.4L1591.8 843.5L1586.8 846.6L1581.8 849.6L1576.8 852.6L1571.8 855.5L1566.8 858.4L1561.8 861.2L1556.8 864.1L1551.8 866.9L1546.8 869.7L1541.8 872.4L1536.8 875.3L1531.8 878.3L1526.8 881.1L1521.8 884.0L1516.8 886.9L1511.8 889.7L1506.8 892.6L1501.8 895.5L1496.8 898.4L1491.8 901.4L1486.8 904.4L1481.8 907.2L1476.8 909.9L1471.8 912.7L1466.8 915.4L1461.8 917.4L1456.8 919.5L1451.8 922.2L1446.8 924.9L1441.8 928.2L1436.8 931.6L1431.8 935.0L1426.8 938.6L1421.8 942.3L1416.8 945.9L1411.8 949.6L1406.8 953.2L1401.8 956.7L1396.8 960.3L1391.8 963.8L1386.8 967.3L1381.8 970.9L1376.8 978.0L1371.8 984.8" stroke-dasharray="18 11" stroke-dashoffset="8" stroke-width="4.8"/>
<path d="M1851.8 572.5L1846.8 583.1L1841.8 593.3L1836.8 603.3L1831.8 613.0L1826.8 622.4L1821.8 631.5L1816.8 640.2L1811.8 648.5L1806.8 656.6L1801.8 664.3L1796.8 671.8L1791.8 678.9L1786.8 685.8L1781.8 691.5L1776.8 696.0L1771.8 700.3L1766.8 704.5L1761.8 708.7L1756.8 712.7L1751.8 717.0L1746.8 723.0L1741.8 728.7L1736.8 734.3L1731.8 739.8L1726.8 745.1L1721.8 750.3L1716.8 754.9L1711.8 759.0L1706.8 762.9L1701.8 767.0L1696.8 771.0L1691.8 774.9L1686.8 778.7L1681.8 782.4L1676.8 786.0L1671.8 789.6L1666.8 793.2L1661.8 796.7L1656.8 800.2L1651.8 804.0L1646.8 808.0L1641.8 812.0L1636.8 816.0L1631.8 819.9L1626.8 823.8L1621.8 827.7L1616.8 831.5L1611.8 834.8L1606.8 838.0L1601.8 841.2L1596.8 844.4L1591.8 847.5L1586.8 850.6L1581.8 853.6L1576.8 856.6L1571.8 859.5L1566.8 862.4L1561.8 865.2L1556.8 868.1L1551.8 870.9L1546.8 873.7L1541.8 876.4L1536.8 879.3L1531.8 882.3L1526.8 885.1L1521.8 888.0L1516.8 890.9L1511.8 893.7L1506.8 896.6L1501.8 899.5L1496.8 902.4L1491.8 905.4L1486.8 908.4L1481.8 911.2L1476.8 913.9L1471.8 916.7L1466.8 919.4L1461.8 921.4L1456.8 923.5L1451.8 926.2L1446.8 928.9L1441.8 932.2L1436.8 935.6L1431.8 939.0L1426.8 942.6L1421.8 946.3L1416.8 949.9L1411.8 953.6L1406.8 957.2L1401.8 960.7L1396.8 964.3L1391.8 967.8L1386.8 971.3L1381.8 974.9L1376.8 982.0L1371.8 988.8" stroke-dasharray="18 11" stroke-dashoffset="11" stroke-width="4.4"/>
<path d="M1846.5 572.6L1841.5 579.1L1836.5 585.7L1831.5 592.3L1826.5 598.8L1821.5 605.1L1816.5 611.3L1811.5 617.4L1806.5 623.3L1801.5 629.1L1796.5 634.8L1791.5 640.4L1786.5 645.9L1781.5 649.8L1776.5 652.5L1771.5 655.1L1766.5 657.6L1761.5 660.2L1756.5 662.7L1751.5 665.8L1746.5 671.2L1741.5 676.6L1736.5 681.9L1731.5 687.1L1726.5 692.3L1721.5 697.4L1716.5 701.7L1711.5 705.2L1706.5 708.7L1701.5 712.2L1696.5 715.8L1691.5 719.2L1686.5 722.5L1681.5 725.8L1676.5 729.0L1671.5 732.3L1666.5 735.4L1661.5 738.6L1656.5 741.8L1651.5 745.5L1646.5 749.9L1641.5 754.1L1636.5 758.4L1631.5 762.6L1626.5 766.8L1621.5 771.0L1616.5 775.2L1611.5 779.0L1606.5 782.7L1601.5 786.4L1596.5 790.2L1591.5 793.9L1586.5 797.5L1581.5 801.2L1576.5 804.7L1571.5 808.1L1566.5 811.5L1561.5 814.8L1556.5 818.1L1551.5 821.5L1546.5 824.8L1541.5 828.1L1536.5 831.6L1531.5 835.2L1526.5 838.8L1521.5 842.4L1516.5 845.9L1511.5 849.4L1506.5 853.0L1501.5 856.6L1496.5 860.5L1491.5 864.2L1486.5 868.0L1481.5 871.6L1476.5 875.0L1471.5 878.5L1466.5 881.7L1461.5 883.6L1456.5 885.9L1451.5 889.3L1446.5 892.6L1441.5 896.4L1436.5 900.3L1431.5 904.2L1426.5 908.5L1421.5 913.0L1416.5 917.5L1411.5 922.0L1406.5 926.3L1401.5 930.5L1396.5 934.7L1391.5 938.9L1386.5 943.1L1381.5 948.0L1376.5 959.3" stroke-dasharray="18 11" stroke-dashoffset="28" stroke-width="4.4"/>
<path d="M1883.5 546.4L1878.5 555.5L1873.5 564.4L1868.5 574.3L1863.5 584.0L1858.5 593.4L1853.5 602.6L1848.5 611.7L1843.5 620.4L1838.5 628.6L1833.5 636.7L1828.5 644.6L1823.5 652.2L1818.5 659.5L1813.5 666.7L1808.5 673.5L1803.5 680.2L1798.5 686.6L1793.5 692.8L1788.5 698.7L1783.5 704.2L1778.5 708.1L1773.5 711.9L1768.5 715.7L1763.5 719.3L1758.5 722.9L1753.5 726.5L1748.5 731.4L1743.5 736.6L1738.5 741.6L1733.5 746.5L1728.5 751.3L1723.5 756.0L1718.5 760.5L1713.5 764.2L1708.5 767.8L1703.5 771.5L1698.5 775.3L1693.5 778.9L1688.5 782.5L1683.5 786.0L1678.5 789.5L1673.5 792.9L1668.5 796.3L1663.5 799.7L1658.5 803.0L1653.5 806.4L1648.5 810.3L1643.5 814.1L1638.5 817.9L1633.5 821.6L1628.5 825.3L1623.5 829.0L1618.5 832.7L1613.5 836.0L1608.5 839.1L1603.5 842.1L1598.5 845.2L1593.5 848.1L1588.5 851.1L1583.5 854.0L1578.5 857.0L1573.5 859.8L1568.5 862.5L1563.5 865.3L1558.5 868.0L1553.5 870.7L1548.5 873.4L1543.5 876.1L1538.5 878.9L1533.5 881.7L1528.5 884.5L1523.5 887.3L1518.5 890.0L1513.5 892.8L1508.5 895.6L1503.5 898.3L1498.5 901.2L1493.5 904.1L1488.5 906.9L1483.5 909.7L1478.5 912.4L1473.5 915.1L1468.5 917.8L1463.5 919.9L1458.5 921.9L1453.5 924.5L1448.5 927.1L1443.5 930.1L1438.5 933.5L1433.5 936.8L1428.5 940.2L1423.5 943.8L1418.5 947.4L1413.5 951.0L1408.5 954.6L1403.5 958.0L1398.5 961.5L1393.5 965.0L1388.5 968.4L1383.5 971.8L1378.5 977.5L1373.5 984.2" stroke-dasharray="18 11" stroke-dashoffset="16" stroke-width="4.8"/>
<path d="M1878.2 549.2L1873.2 554.4L1868.2 560.8L1863.2 567.0L1858.2 573.3L1853.2 579.4L1848.2 585.5L1843.2 591.5L1838.2 597.4L1833.2 603.4L1828.2 609.3L1823.2 615.1L1818.2 620.9L1813.2 626.5L1808.2 632.0L1803.2 637.4L1798.2 642.8L1793.2 648.0L1788.2 653.1L1783.2 657.6L1778.2 660.0L1773.2 662.4L1768.2 664.8L1763.2 667.2L1758.2 669.5L1753.2 671.8L1748.2 676.6L1743.2 681.7L1738.2 686.7L1733.2 691.7L1728.2 696.7L1723.2 701.6L1718.2 706.1L1713.2 709.5L1708.2 712.9L1703.2 716.3L1698.2 719.7L1693.2 723.0L1688.2 726.3L1683.2 729.4L1678.2 732.6L1673.2 735.7L1668.2 738.8L1663.2 741.9L1658.2 745.0L1653.2 748.3L1648.2 752.5L1643.2 756.7L1638.2 760.8L1633.2 765.0L1628.2 769.1L1623.2 773.2L1618.2 777.3L1613.2 781.1L1608.2 784.8L1603.2 788.4L1598.2 792.1L1593.2 795.7L1588.2 799.3L1583.2 802.9L1578.2 806.4L1573.2 809.7L1568.2 813.1L1563.2 816.3L1558.2 819.6L1553.2 822.9L1548.2 826.2L1543.2 829.4L1538.2 832.8L1533.2 836.4L1528.2 839.9L1523.2 843.4L1518.2 846.9L1513.2 850.4L1508.2 853.9L1503.2 857.4L1498.2 861.1L1493.2 864.9L1488.2 868.6L1483.2 872.2L1478.2 875.6L1473.2 879.0L1468.2 882.4L1463.2 884.7L1458.2 886.6L1453.2 889.8L1448.2 893.0L1443.2 896.6L1438.2 900.5L1433.2 904.4L1428.2 908.5L1423.2 912.9L1418.2 917.4L1413.2 921.9L1408.2 926.2L1403.2 930.4L1398.2 934.6L1393.2 938.7L1388.2 942.9L1383.2 947.0L1378.2 956.5L1373.2 967.7" stroke-dasharray="18 11" stroke-dashoffset="20" stroke-width="4.4"/>
<path d="M1920.4 525.4L1915.4 534.9L1910.4 543.6L1905.4 552.0L1900.4 560.2L1895.4 568.3L1890.4 576.3L1885.4 584.2L1880.4 592.0L1875.4 599.7L1870.4 607.7L1865.4 616.0L1860.4 624.2L1855.4 632.2L1850.4 640.0L1845.4 647.7L1840.4 654.6L1835.4 661.3L1830.4 668.0L1825.4 674.4L1820.4 680.7L1815.4 686.8L1810.4 692.7L1805.4 698.4L1800.4 704.0L1795.4 709.4L1790.4 714.5L1785.4 719.6L1780.4 723.4L1775.4 726.8L1770.4 730.1L1765.4 733.4L1760.4 736.6L1755.4 739.8L1750.4 743.6L1745.4 748.2L1740.4 752.7L1735.4 757.1L1730.4 761.5L1725.4 765.8L1720.4 769.9L1715.4 773.5L1710.4 776.9L1705.4 780.3L1700.4 783.8L1695.4 787.3L1690.4 790.7L1685.4 794.0L1680.4 797.3L1675.4 800.6L1670.4 803.9L1665.4 807.1L1660.4 810.3L1655.4 813.4L1650.4 817.0L1645.4 820.6L1640.4 824.3L1635.4 827.8L1630.4 831.4L1625.4 835.0L1620.4 838.5L1615.4 841.9L1610.4 844.8L1605.4 847.7L1600.4 850.5L1595.4 853.4L1590.4 856.2L1585.4 859.0L1580.4 861.8L1575.4 864.6L1570.4 867.2L1565.4 869.9L1560.4 872.5L1555.4 875.1L1550.4 877.7L1545.4 880.3L1540.4 882.9L1535.4 885.7L1530.4 888.4L1525.4 891.0L1520.4 893.7L1515.4 896.4L1510.4 899.1L1505.4 901.7L1500.4 904.4L1495.4 907.2L1490.4 910.0L1485.4 912.7L1480.4 915.3L1475.4 917.9L1470.4 920.5L1465.4 922.9L1460.4 924.9L1455.4 927.1L1450.4 929.7L1445.4 932.4L1440.4 935.7L1435.4 938.9L1430.4 942.2L1425.4 945.7L1420.4 949.2L1415.4 952.7L1410.4 956.2L1405.4 959.6L1400.4 963.0L1395.4 966.4L1390.4 969.8L1385.4 973.1L1380.4 977.3L1375.4 983.6" stroke-dasharray="18 11" stroke-dashoffset="6" stroke-width="4.8"/>
<path d="M1920.4 529.4L1915.4 538.9L1910.4 547.6L1905.4 556.0L1900.4 564.2L1895.4 572.3L1890.4 580.3L1885.4 588.2L1880.4 596.0L1875.4 603.7L1870.4 611.7L1865.4 620.0L1860.4 628.2L1855.4 636.2L1850.4 644.0L1845.4 651.7L1840.4 658.6L1835.4 665.3L1830.4 672.0L1825.4 678.4L1820.4 684.7L1815.4 690.8L1810.4 696.7L1805.4 702.4L1800.4 708.0L1795.4 713.4L1790.4 718.5L1785.4 723.6L1780.4 727.4L1775.4 730.8L1770.4 734.1L1765.4 737.4L1760.4 740.6L1755.4 743.8L1750.4 747.6L1745.4 752.2L1740.4 756.7L1735.4 761.1L1730.4 765.5L1725.4 769.8L1720.4 773.9L1715.4 777.5L1710.4 780.9L1705.4 784.3L1700.4 787.8L1695.4 791.3L1690.4 794.7L1685.4 798.0L1680.4 801.3L1675.4 804.6L1670.4 807.9L1665.4 811.1L1660.4 814.3L1655.4 817.4L1650.4 821.0L1645.4 824.6L1640.4 828.3L1635.4 831.8L1630.4 835.4L1625.4 839.0L1620.4 842.5L1615.4 845.9L1610.4 848.8L1605.4 851.7L1600.4 854.5L1595.4 857.4L1590.4 860.2L1585.4 863.0L1580.4 865.8L1575.4 868.6L1570.4 871.2L1565.4 873.9L1560.4 876.5L1555.4 879.1L1550.4 881.7L1545.4 884.3L1540.4 886.9L1535.4 889.7L1530.4 892.4L1525.4 895.0L1520.4 897.7L1515.4 900.4L1510.4 903.1L1505.4 905.7L1500.4 908.4L1495.4 911.2L1490.4 914.0L1485.4 916.7L1480.4 919.3L1475.4 921.9L1470.4 924.5L1465.4 926.9L1460.4 928.9L1455.4 931.1L1450.4 933.7L1445.4 936.4L1440.4 939.7L1435.4 942.9L1430.4 946.2L1425.4 949.7L1420.4 953.2L1415.4 956.7L1410.4 960.2L1405.4 963.6L1400.4 967.0L1395.4 970.4L1390.4 973.8L1385.4 977.1L1380.4 981.3L1375.4 987.6" stroke-dasharray="18 11" stroke-dashoffset="9" stroke-width="4.4"/>
<path d="M1915.1 529.2L1910.1 534.4L1905.1 539.4L1900.1 544.3L1895.1 549.3L1890.1 554.2L1885.1 559.0L1880.1 563.9L1875.1 568.7L1870.1 574.2L1865.1 580.0L1860.1 585.8L1855.1 591.5L1850.1 597.2L1845.1 602.9L1840.1 608.2L1835.1 613.7L1830.1 619.2L1825.1 624.6L1820.1 629.9L1815.1 635.1L1810.1 640.3L1805.1 645.3L1800.1 650.3L1795.1 655.2L1790.1 660.0L1785.1 664.7L1780.1 667.4L1775.1 669.7L1770.1 671.9L1765.1 674.1L1760.1 676.3L1755.1 678.4L1750.1 681.9L1745.1 686.8L1740.1 691.6L1735.1 696.4L1730.1 701.1L1725.1 705.8L1720.1 710.4L1715.1 713.9L1710.1 717.1L1705.1 720.4L1700.1 723.7L1695.1 726.9L1690.1 730.1L1685.1 733.2L1680.1 736.3L1675.1 739.3L1670.1 742.4L1665.1 745.4L1660.1 748.4L1655.1 751.4L1650.1 755.3L1645.1 759.4L1640.1 763.5L1635.1 767.5L1630.1 771.5L1625.1 775.6L1620.1 779.6L1615.1 783.4L1610.1 787.0L1605.1 790.6L1600.1 794.2L1595.1 797.7L1590.1 801.2L1585.1 804.7L1580.1 808.3L1575.1 811.6L1570.1 814.8L1565.1 818.1L1560.1 821.3L1555.1 824.5L1550.1 827.7L1545.1 830.9L1540.1 834.2L1535.1 837.6L1530.1 841.1L1525.1 844.6L1520.1 848.0L1515.1 851.4L1510.1 854.9L1505.1 858.3L1500.1 861.9L1495.1 865.6L1490.1 869.3L1485.1 873.0L1480.1 876.3L1475.1 879.7L1470.1 883.1L1465.1 885.8L1460.1 887.7L1455.1 890.4L1450.1 893.6L1445.1 897.0L1440.1 900.8L1435.1 904.6L1430.1 908.5L1425.1 912.9L1420.1 917.3L1415.1 921.7L1410.1 926.1L1405.1 930.3L1400.1 934.4L1395.1 938.5L1390.1 942.6L1385.1 946.7L1380.1 953.4L1375.1 964.3" stroke-dasharray="18 11" stroke-dashoffset="27" stroke-width="4.4"/>
<path d="M1957.3 498.1L1952.3 506.9L1947.3 515.7L1942.3 524.6L1937.3 533.6L1932.3 542.5L1927.3 551.3L1922.3 559.7L1917.3 568.1L1912.3 576.0L1907.3 583.4L1902.3 590.7L1897.3 597.9L1892.3 605.0L1887.3 612.0L1882.3 618.9L1877.3 625.8L1872.3 632.7L1867.3 640.0L1862.3 647.3L1857.3 654.5L1852.3 661.5L1847.3 668.5L1842.3 674.8L1837.3 680.6L1832.3 686.3L1827.3 692.0L1822.3 697.4L1817.3 702.8L1812.3 708.0L1807.3 713.1L1802.3 718.1L1797.3 723.0L1792.3 727.5L1787.3 732.0L1782.3 736.0L1777.3 739.1L1772.3 742.1L1767.3 745.2L1762.3 748.2L1757.3 751.1L1752.3 754.2L1747.3 758.3L1742.3 762.4L1737.3 766.5L1732.3 770.5L1727.3 774.4L1722.3 778.3L1717.3 781.8L1712.3 785.0L1707.3 788.2L1702.3 791.5L1697.3 794.8L1692.3 798.1L1687.3 801.3L1682.3 804.5L1677.3 807.7L1672.3 810.8L1667.3 813.9L1662.3 817.0L1657.3 820.1L1652.3 823.3L1647.3 826.8L1642.3 830.3L1637.3 833.8L1632.3 837.2L1627.3 840.6L1622.3 844.0L1617.3 847.4L1612.3 850.3L1607.3 853.1L1602.3 855.8L1597.3 858.5L1592.3 861.2L1587.3 863.9L1582.3 866.6L1577.3 869.3L1572.3 871.8L1567.3 874.4L1562.3 876.9L1557.3 879.5L1552.3 882.0L1547.3 884.5L1542.3 887.0L1537.3 889.6L1532.3 892.2L1527.3 894.8L1522.3 897.4L1517.3 900.0L1512.3 902.6L1507.3 905.1L1502.3 907.7L1497.3 910.4L1492.3 913.0L1487.3 915.7L1482.3 918.2L1477.3 920.8L1472.3 923.3L1467.3 925.8L1462.3 927.8L1457.3 929.8L1452.3 932.3L1447.3 934.8L1442.3 937.9L1437.3 941.1L1432.3 944.3L1427.3 947.6L1422.3 951.0L1417.3 954.5L1412.3 957.9L1407.3 961.2L1402.3 964.5L1397.3 967.9L1392.3 971.2L1387.3 974.4L1382.3 977.7L1377.3 983.3L1372.3 989.0" stroke-dasharray="18 11" stroke-dashoffset="20" stroke-width="4.8"/>
<path d="M1952.1 502.0L1947.1 507.7L1942.1 513.5L1937.1 519.3L1932.1 525.1L1927.1 530.9L1922.1 536.6L1917.1 542.2L1912.1 547.5L1907.1 552.2L1902.1 556.8L1897.1 561.5L1892.1 566.1L1887.1 570.7L1882.1 575.3L1877.1 579.8L1872.1 584.6L1867.1 590.2L1862.1 595.6L1857.1 601.1L1852.1 606.5L1847.1 611.9L1842.1 617.0L1837.1 622.0L1832.1 627.1L1827.1 632.2L1822.1 637.2L1817.1 642.2L1812.1 647.0L1807.1 651.8L1802.1 656.5L1797.1 661.2L1792.1 665.7L1787.1 670.2L1782.1 673.7L1777.1 675.8L1772.1 677.9L1767.1 680.0L1762.1 682.1L1757.1 684.2L1752.1 686.5L1747.1 691.2L1742.1 695.8L1737.1 700.4L1732.1 704.9L1727.1 709.4L1722.1 713.9L1717.1 717.8L1712.1 720.9L1707.1 724.0L1702.1 727.3L1697.1 730.4L1692.1 733.6L1687.1 736.7L1682.1 739.7L1677.1 742.6L1672.1 745.6L1667.1 748.6L1662.1 751.6L1657.1 754.5L1652.1 757.9L1647.1 761.9L1642.1 765.9L1637.1 769.9L1632.1 773.8L1627.1 777.8L1622.1 781.7L1617.1 785.6L1612.1 789.2L1607.1 792.7L1602.1 796.2L1597.1 799.6L1592.1 803.1L1587.1 806.6L1582.1 810.0L1577.1 813.4L1572.1 816.6L1567.1 819.7L1562.1 822.9L1557.1 826.1L1552.1 829.2L1547.1 832.4L1542.1 835.5L1537.1 838.9L1532.1 842.3L1527.1 845.7L1522.1 849.1L1517.1 852.5L1512.1 855.9L1507.1 859.3L1502.1 862.8L1497.1 866.4L1492.1 870.0L1487.1 873.6L1482.1 877.1L1477.1 880.4L1472.1 883.7L1467.1 887.0L1462.1 888.9L1457.1 891.0L1452.1 894.2L1447.1 897.4L1442.1 901.1L1437.1 904.9L1432.1 908.7L1427.1 912.8L1422.1 917.2L1417.1 921.6L1412.1 925.9L1407.1 930.1L1402.1 934.2L1397.1 938.3L1392.1 942.4L1387.1 946.5L1382.1 950.5L1377.1 961.2L1372.1 971.9" stroke-dasharray="18 11" stroke-dashoffset="28" stroke-width="4.4"/>
<path d="M2010.1 458.8L2005.1 464.6L2000.1 471.6L1995.1 479.0L1990.1 487.0L1985.1 494.8L1980.1 502.8L1975.1 511.1L1970.1 519.5L1965.1 528.1L1960.1 536.8L1955.1 545.0L1950.1 553.3L1945.1 561.6L1940.1 569.9L1935.1 578.3L1930.1 586.7L1925.1 594.0L1920.1 601.3L1915.1 608.5L1910.1 615.3L1905.1 621.8L1900.1 628.2L1895.1 634.5L1890.1 640.7L1885.1 647.0L1880.1 653.1L1875.1 659.2L1870.1 665.6L1865.1 672.0L1860.1 678.5L1855.1 684.8L1850.1 691.1L1845.1 697.3L1840.1 702.2L1835.1 707.1L1830.1 711.9L1825.1 716.6L1820.1 721.3L1815.1 725.8L1810.1 730.3L1805.1 734.6L1800.1 739.0L1795.1 743.0L1790.1 746.9L1785.1 750.8L1780.1 753.8L1775.1 756.7L1770.1 759.5L1765.1 762.3L1760.1 765.0L1755.1 767.8L1750.1 771.0L1745.1 774.7L1740.1 778.3L1735.1 781.9L1730.1 785.5L1725.1 789.0L1720.1 792.5L1715.1 795.5L1710.1 798.5L1705.1 801.5L1700.1 804.6L1695.1 807.8L1690.1 810.9L1685.1 814.0L1680.1 817.0L1675.1 820.1L1670.1 823.1L1665.1 826.1L1660.1 829.1L1655.1 832.0L1650.1 835.3L1645.1 838.6L1640.1 841.9L1635.1 845.2L1630.1 848.4L1625.1 851.7L1620.1 854.9L1615.1 858.0L1610.1 860.6L1605.1 863.2L1600.1 865.7L1595.1 868.3L1590.1 870.8L1585.1 873.4L1580.1 875.9L1575.1 878.4L1570.1 880.8L1565.1 883.2L1560.1 885.7L1555.1 888.1L1550.1 890.5L1545.1 892.9L1540.1 895.3L1535.1 897.8L1530.1 900.3L1525.1 902.7L1520.1 905.2L1515.1 907.6L1510.1 910.1L1505.1 912.5L1500.1 915.0L1495.1 917.5L1490.1 920.0L1485.1 922.5L1480.1 924.9L1475.1 927.3L1470.1 929.7L1465.1 932.0L1460.1 933.9L1455.1 936.1L1450.1 938.5L1445.1 941.1L1440.1 944.2L1435.1 947.4L1430.1 950.5L1425.1 953.8L1420.1 957.1L1415.1 960.4L1410.1 963.6L1405.1 966.8L1400.1 970.1L1395.1 973.3L1390.1 976.4L1385.1 979.6L1380.1 983.5L1375.1 988.6" stroke-dasharray="18 11" stroke-dashoffset="26" stroke-width="4.8"/>
<path d="M2010.1 462.8L2005.1 468.6L2000.1 475.6L1995.1 483.0L1990.1 491.0L1985.1 498.8L1980.1 506.8L1975.1 515.1L1970.1 523.5L1965.1 532.1L1960.1 540.8L1955.1 549.0L1950.1 557.3L1945.1 565.6L1940.1 573.9L1935.1 582.3L1930.1 590.7L1925.1 598.0L1920.1 605.3L1915.1 612.5L1910.1 619.3L1905.1 625.8L1900.1 632.2L1895.1 638.5L1890.1 644.7L1885.1 651.0L1880.1 657.1L1875.1 663.2L1870.1 669.6L1865.1 676.0L1860.1 682.5L1855.1 688.8L1850.1 695.1L1845.1 701.3L1840.1 706.2L1835.1 711.1L1830.1 715.9L1825.1 720.6L1820.1 725.3L1815.1 729.8L1810.1 734.3L1805.1 738.6L1800.1 743.0L1795.1 747.0L1790.1 750.9L1785.1 754.8L1780.1 757.8L1775.1 760.7L1770.1 763.5L1765.1 766.3L1760.1 769.0L1755.1 771.8L1750.1 775.0L1745.1 778.7L1740.1 782.3L1735.1 785.9L1730.1 789.5L1725.1 793.0L1720.1 796.5L1715.1 799.5L1710.1 802.5L1705.1 805.5L1700.1 808.6L1695.1 811.8L1690.1 814.9L1685.1 818.0L1680.1 821.0L1675.1 824.1L1670.1 827.1L1665.1 830.1L1660.1 833.1L1655.1 836.0L1650.1 839.3L1645.1 842.6L1640.1 845.9L1635.1 849.2L1630.1 852.4L1625.1 855.7L1620.1 858.9L1615.1 862.0L1610.1 864.6L1605.1 867.2L1600.1 869.7L1595.1 872.3L1590.1 874.8L1585.1 877.4L1580.1 879.9L1575.1 882.4L1570.1 884.8L1565.1 887.2L1560.1 889.7L1555.1 892.1L1550.1 894.5L1545.1 896.9L1540.1 899.3L1535.1 901.8L1530.1 904.3L1525.1 906.7L1520.1 909.2L1515.1 911.6L1510.1 914.1L1505.1 916.5L1500.1 919.0L1495.1 921.5L1490.1 924.0L1485.1 926.5L1480.1 928.9L1475.1 931.3L1470.1 933.7L1465.1 936.0L1460.1 937.9L1455.1 940.1L1450.1 942.5L1445.1 945.1L1440.1 948.2L1435.1 951.4L1430.1 954.5L1425.1 957.8L1420.1 961.1L1415.1 964.4L1410.1 967.6L1405.1 970.8L1400.1 974.1L1395.1 977.3L1390.1 980.4L1385.1 983.6L1380.1 987.5L1375.1 992.6" stroke-dasharray="18 11" stroke-dashoffset="29" stroke-width="4.4"/>
<path d="M2004.8 462.2L1999.8 467.1L1994.8 472.3L1989.8 477.6L1984.8 483.0L1979.8 488.5L1974.8 494.1L1969.8 499.8L1964.8 505.5L1959.8 511.3L1954.8 516.9L1949.8 522.5L1944.8 528.2L1939.8 533.9L1934.8 539.6L1929.8 545.3L1924.8 550.7L1919.8 556.0L1914.8 561.3L1909.8 565.9L1904.8 570.3L1899.8 574.7L1894.8 579.1L1889.8 583.5L1884.8 587.8L1879.8 592.2L1874.8 596.5L1869.8 601.4L1864.8 606.6L1859.8 611.8L1854.8 616.9L1849.8 622.0L1844.8 627.1L1839.8 631.6L1834.8 636.4L1829.8 641.1L1824.8 645.7L1819.8 650.4L1814.8 655.0L1809.8 659.4L1804.8 663.9L1799.8 668.3L1794.8 672.6L1789.8 676.8L1784.8 681.0L1779.8 683.3L1774.8 685.3L1769.8 687.3L1764.8 689.3L1759.8 691.3L1754.8 693.3L1749.8 696.6L1744.8 701.0L1739.8 705.4L1734.8 709.7L1729.8 714.0L1724.8 718.3L1719.8 722.6L1714.8 725.8L1709.8 728.8L1704.8 731.8L1699.8 735.0L1694.8 738.1L1689.8 741.1L1684.8 744.0L1679.8 747.0L1674.8 749.9L1669.8 752.8L1664.8 755.7L1659.8 758.6L1654.8 761.5L1649.8 765.2L1644.8 769.1L1639.8 773.0L1634.8 776.9L1629.8 780.7L1624.8 784.6L1619.8 788.4L1614.8 792.1L1609.8 795.5L1604.8 798.9L1599.8 802.3L1594.8 805.7L1589.8 809.1L1584.8 812.4L1579.8 815.8L1574.8 819.0L1569.8 822.1L1564.8 825.2L1559.8 828.3L1554.8 831.4L1549.8 834.5L1544.8 837.6L1539.8 840.7L1534.8 844.1L1529.8 847.4L1524.8 850.7L1519.8 854.0L1514.8 857.4L1509.8 860.7L1504.8 864.0L1499.8 867.5L1494.8 871.1L1489.8 874.6L1484.8 878.1L1479.8 881.4L1474.8 884.6L1469.8 887.9L1464.8 890.5L1459.8 892.4L1454.8 895.1L1449.8 898.2L1444.8 901.5L1439.8 905.3L1434.8 909.0L1429.8 912.8L1424.8 917.1L1419.8 921.4L1414.8 925.7L1409.8 930.0L1404.8 934.0L1399.8 938.1L1394.8 942.1L1389.8 946.1L1384.8 950.1L1379.8 956.9L1374.8 967.3" stroke-dasharray="18 11" stroke-dashoffset="9" stroke-width="4.4"/>
<path d="M1930.8 688.0L1905.0 722.0L1879.0 745.0L1845.0 774.0L1799.0 799.0L1707.0 842.0L1616.0 891.0L1524.0 927.5L1447.0 958.0L1392.0 989.0L1365.0 1003.0" stroke-dasharray="24 15" stroke-dashoffset="10" stroke-width="4.6"/>
<path d="M1912.0 690.0L1890.0 722.0L1862.0 748.0L1830.0 772.0L1785.0 792.0L1695.0 834.0L1605.0 880.0L1512.0 916.0L1437.0 948.0L1385.0 978.0L1362.0 995.0" stroke-dasharray="24 15" stroke-dashoffset="5" stroke-width="4.6"/>
<path d="M1925.0 668.0L1880.0 700.0L1830.0 735.0L1760.0 772.0L1690.0 808.0L1610.0 850.0L1530.0 890.0L1460.0 925.0L1400.0 962.0" stroke-dasharray="22 30" stroke-dashoffset="4" stroke-width="4.6"/>
<path d="M2011.0 492.0L1955.0 560.0L1900.0 629.0L1850.0 690.0L1820.0 725.0L1760.0 765.0L1680.0 800.0L1590.0 845.0L1500.0 890.0L1440.0 925.0" stroke-dasharray="20 12" stroke-dashoffset="2" stroke-width="4.8"/>
<path d="M1996.0 494.0L1940.0 562.0L1886.0 628.0L1840.0 682.0L1800.0 718.0L1740.0 752.0L1660.0 790.0L1570.0 835.0" stroke-dasharray="20 12" stroke-dashoffset="9" stroke-width="4.8"/>
<path d="M1340.0 1041.3L1345.0 1029.3L1350.0 1018.7L1355.0 1008.4L1360.0 998.0L1365.0 987.8L1370.0 977.8" stroke-dasharray="18 11" stroke-dashoffset="17" stroke-width="5.2"/>
<path d="M1340.0 1037.3L1345.0 1025.3L1350.0 1014.7L1355.0 1004.4L1360.0 994.0L1365.0 983.8L1370.0 973.8" stroke-dasharray="18 11" stroke-dashoffset="20" stroke-width="4.6"/>
<path d="M1340.0 1041.3L1345.0 1031.4L1350.0 1021.7L1355.0 1011.9L1360.0 1001.8L1365.0 991.6L1370.0 981.6" stroke-dasharray="18 11" stroke-dashoffset="0" stroke-width="4.6"/>
<path d="M1318.9 1090.9L1323.9 1075.0L1328.9 1061.1L1333.9 1047.9L1338.9 1035.7L1343.9 1025.7L1348.9 1016.1L1353.9 1006.7L1358.9 996.8L1363.9 987.1L1368.9 977.5" stroke-dasharray="18 11" stroke-dashoffset="20" stroke-width="5.2"/>
<path d="M1318.9 1086.9L1323.9 1071.0L1328.9 1057.1L1333.9 1043.9L1338.9 1031.7L1343.9 1021.7L1348.9 1012.1L1353.9 1002.7L1358.9 992.8L1363.9 983.1L1368.9 973.5" stroke-dasharray="18 11" stroke-dashoffset="23" stroke-width="4.6"/>
<path d="M1297.8 1123.6L1302.8 1111.1L1307.8 1100.9L1312.8 1091.3L1317.8 1082.0L1322.8 1069.3L1327.8 1056.8L1332.8 1044.6L1337.8 1032.8L1342.8 1023.3L1347.8 1014.2L1352.8 1005.3L1357.8 995.9L1362.8 986.6L1367.8 977.4" stroke-dasharray="18 11" stroke-dashoffset="10" stroke-width="5.2"/>
<path d="M1297.8 1119.6L1302.8 1107.1L1307.8 1096.9L1312.8 1087.3L1317.8 1078.0L1322.8 1065.3L1327.8 1052.8L1332.8 1040.6L1337.8 1028.8L1342.8 1019.3L1347.8 1010.2L1352.8 1001.3L1357.8 991.9L1362.8 982.6L1367.8 973.4" stroke-dasharray="18 11" stroke-dashoffset="13" stroke-width="4.6"/>
<path d="M1297.8 1123.6L1302.8 1114.9L1307.8 1106.7L1312.8 1098.5L1317.8 1090.4L1322.8 1078.2L1327.8 1066.0L1332.8 1053.8L1337.8 1041.8L1342.8 1032.2L1347.8 1022.8L1352.8 1013.5L1357.8 1003.8L1362.8 993.9L1367.8 984.2" stroke-dasharray="18 11" stroke-dashoffset="9" stroke-width="4.6"/>
<path d="M1276.7 1154.0L1281.7 1143.6L1286.7 1132.6L1291.7 1122.2L1296.7 1112.2L1301.7 1102.7L1306.7 1093.7L1311.7 1085.0L1316.7 1076.5L1321.7 1065.4L1326.7 1053.6L1331.7 1042.0L1336.7 1030.8L1341.7 1021.4L1346.7 1012.6L1351.7 1004.1L1356.7 995.2L1361.7 986.2L1366.7 977.3L1371.7 968.5" stroke-dasharray="18 11" stroke-dashoffset="24" stroke-width="5.2"/>
<path d="M1276.7 1150.0L1281.7 1139.6L1286.7 1128.6L1291.7 1118.2L1296.7 1108.2L1301.7 1098.7L1306.7 1089.7L1311.7 1081.0L1316.7 1072.5L1321.7 1061.4L1326.7 1049.6L1331.7 1038.0L1336.7 1026.8L1341.7 1017.4L1346.7 1008.6L1351.7 1000.1L1356.7 991.2L1361.7 982.2L1366.7 973.3L1371.7 964.5" stroke-dasharray="18 11" stroke-dashoffset="27" stroke-width="4.6"/>
<path d="M1252.9 1176.5L1257.9 1165.1L1262.9 1156.8L1267.9 1149.1L1272.9 1141.8L1277.9 1134.9L1282.9 1127.7L1287.9 1118.3L1292.9 1109.2L1297.9 1100.4L1302.9 1091.8L1307.9 1083.5L1312.9 1075.3L1317.9 1067.3L1322.9 1056.1L1327.9 1045.0L1332.9 1034.1L1337.9 1023.6L1342.9 1015.2L1347.9 1006.9L1352.9 998.8L1357.9 990.2L1362.9 981.5L1367.9 972.9" stroke-dasharray="18 11" stroke-dashoffset="14" stroke-width="5.2"/>
<path d="M1252.9 1172.5L1257.9 1161.1L1262.9 1152.8L1267.9 1145.1L1272.9 1137.8L1277.9 1130.9L1282.9 1123.7L1287.9 1114.3L1292.9 1105.2L1297.9 1096.4L1302.9 1087.8L1307.9 1079.5L1312.9 1071.3L1317.9 1063.3L1322.9 1052.1L1327.9 1041.0L1332.9 1030.1L1337.9 1019.6L1342.9 1011.2L1347.9 1002.9L1352.9 994.8L1357.9 986.2L1362.9 977.5L1367.9 968.9" stroke-dasharray="18 11" stroke-dashoffset="17" stroke-width="4.6"/>
<path d="M1252.9 1176.5L1257.9 1170.1L1262.9 1164.4L1267.9 1158.8L1272.9 1153.3L1277.9 1147.8L1282.9 1141.8L1287.9 1133.2L1292.9 1124.7L1297.9 1116.3L1302.9 1108.1L1307.9 1100.2L1312.9 1092.4L1317.9 1084.6L1322.9 1072.8L1327.9 1061.0L1332.9 1049.3L1337.9 1037.7L1342.9 1028.6L1347.9 1019.6L1352.9 1010.6L1357.9 1001.1L1362.9 991.5L1367.9 982.0" stroke-dasharray="18 11" stroke-dashoffset="9" stroke-width="4.6"/>
<path d="M1229.2 1213.5L1234.2 1194.8L1239.2 1183.9L1244.2 1173.8L1249.2 1164.3L1254.2 1155.3L1259.2 1148.4L1264.2 1141.7L1269.2 1135.2L1274.2 1128.9L1279.2 1122.7L1284.2 1115.5L1289.2 1107.0L1294.2 1098.6L1299.2 1090.3L1304.2 1082.3L1309.2 1074.5L1314.2 1066.7L1319.2 1058.4L1324.2 1047.7L1329.2 1037.2L1334.2 1026.9L1339.2 1017.5L1344.2 1009.5L1349.2 1001.7L1354.2 993.9L1359.2 985.5L1364.2 977.1L1369.2 968.8" stroke-dasharray="18 11" stroke-dashoffset="14" stroke-width="5.2"/>
<path d="M1229.2 1209.5L1234.2 1190.8L1239.2 1179.9L1244.2 1169.8L1249.2 1160.3L1254.2 1151.3L1259.2 1144.4L1264.2 1137.7L1269.2 1131.2L1274.2 1124.9L1279.2 1118.7L1284.2 1111.5L1289.2 1103.0L1294.2 1094.6L1299.2 1086.3L1304.2 1078.3L1309.2 1070.5L1314.2 1062.7L1319.2 1054.4L1324.2 1043.7L1329.2 1033.2L1334.2 1022.9L1339.2 1013.5L1344.2 1005.5L1349.2 997.7L1354.2 989.9L1359.2 981.5L1364.2 973.1L1369.2 964.8" stroke-dasharray="18 11" stroke-dashoffset="17" stroke-width="4.6"/>
<path d="M1205.4 1259.5L1210.4 1246.2L1215.4 1236.5L1220.4 1221.0L1225.4 1203.4L1230.4 1186.6L1235.4 1175.2L1240.4 1166.4L1245.4 1157.9L1250.4 1149.6L1255.4 1142.0L1260.4 1135.8L1265.4 1129.8L1270.4 1123.8L1275.4 1118.0L1280.4 1112.2L1285.4 1104.9L1290.4 1097.0L1295.4 1089.2L1300.4 1081.3L1305.4 1073.7L1310.4 1066.3L1315.4 1058.9L1320.4 1050.1L1325.4 1040.0L1330.4 1030.0L1335.4 1020.4L1340.4 1011.8L1345.4 1004.3L1350.4 996.8L1355.4 989.1L1360.4 981.0L1365.4 973.0L1370.4 965.0" stroke-dasharray="18 11" stroke-dashoffset="20" stroke-width="5.2"/>
<path d="M1205.4 1255.5L1210.4 1242.2L1215.4 1232.5L1220.4 1217.0L1225.4 1199.4L1230.4 1182.6L1235.4 1171.2L1240.4 1162.4L1245.4 1153.9L1250.4 1145.6L1255.4 1138.0L1260.4 1131.8L1265.4 1125.8L1270.4 1119.8L1275.4 1114.0L1280.4 1108.2L1285.4 1100.9L1290.4 1093.0L1295.4 1085.2L1300.4 1077.3L1305.4 1069.7L1310.4 1062.3L1315.4 1054.9L1320.4 1046.1L1325.4 1036.0L1330.4 1026.0L1335.4 1016.4L1340.4 1007.8L1345.4 1000.3L1350.4 992.8L1355.4 985.1L1360.4 977.0L1365.4 969.0L1370.4 961.0" stroke-dasharray="18 11" stroke-dashoffset="23" stroke-width="4.6"/>
<path d="M1205.4 1259.5L1210.4 1253.5L1215.4 1247.8L1220.4 1234.9L1225.4 1218.9L1230.4 1203.2L1235.4 1193.0L1240.4 1185.3L1245.4 1177.8L1250.4 1170.3L1255.4 1163.5L1260.4 1158.2L1265.4 1152.9L1270.4 1147.6L1275.4 1142.4L1280.4 1137.3L1285.4 1130.0L1290.4 1121.9L1295.4 1113.8L1300.4 1105.7L1305.4 1098.1L1310.4 1090.5L1315.4 1082.9L1320.4 1073.5L1325.4 1062.1L1330.4 1050.8L1335.4 1039.6L1340.4 1029.6L1345.4 1020.9L1350.4 1012.2L1355.4 1003.3L1360.4 994.0L1365.4 984.7L1370.4 975.5" stroke-dasharray="18 11" stroke-dashoffset="2" stroke-width="4.6"/>
<path d="M1179.0 1281.2L1184.0 1267.3L1189.0 1257.2L1194.0 1248.2L1199.0 1239.8L1204.0 1231.8L1209.0 1224.1L1214.0 1216.7L1219.0 1206.0L1224.0 1190.4L1229.0 1175.4L1234.0 1163.5L1239.0 1155.5L1244.0 1147.7L1249.0 1140.1L1254.0 1132.7L1259.0 1126.9L1264.0 1121.2L1269.0 1115.7L1274.0 1110.2L1279.0 1104.7L1284.0 1098.5L1289.0 1091.0L1294.0 1083.6L1299.0 1076.3L1304.0 1069.0L1309.0 1061.8L1314.0 1054.6L1319.0 1047.0L1324.0 1037.4L1329.0 1027.9L1334.0 1018.6L1339.0 1010.0L1344.0 1002.8L1349.0 995.6L1354.0 988.6L1359.0 980.7L1364.0 973.0L1369.0 965.3" stroke-dasharray="18 11" stroke-dashoffset="28" stroke-width="5.2"/>
<path d="M1179.0 1277.2L1184.0 1263.3L1189.0 1253.2L1194.0 1244.2L1199.0 1235.8L1204.0 1227.8L1209.0 1220.1L1214.0 1212.7L1219.0 1202.0L1224.0 1186.4L1229.0 1171.4L1234.0 1159.5L1239.0 1151.5L1244.0 1143.7L1249.0 1136.1L1254.0 1128.7L1259.0 1122.9L1264.0 1117.2L1269.0 1111.7L1274.0 1106.2L1279.0 1100.7L1284.0 1094.5L1289.0 1087.0L1294.0 1079.6L1299.0 1072.3L1304.0 1065.0L1309.0 1057.8L1314.0 1050.6L1319.0 1043.0L1324.0 1033.4L1329.0 1023.9L1334.0 1014.6L1339.0 1006.0L1344.0 998.8L1349.0 991.6L1354.0 984.6L1359.0 976.7L1364.0 969.0L1369.0 961.3" stroke-dasharray="18 11" stroke-dashoffset="31" stroke-width="4.6"/>
<path d="M1150.0 1310.9L1155.0 1295.0L1160.0 1283.5L1165.0 1273.1L1170.0 1263.4L1175.0 1254.2L1180.0 1245.7L1185.0 1238.1L1190.0 1230.8L1195.0 1223.6L1200.0 1216.7L1205.0 1209.9L1210.0 1203.2L1215.0 1196.7L1220.0 1185.6L1225.0 1171.7L1230.0 1158.3L1235.0 1148.7L1240.0 1141.4L1245.0 1134.3L1250.0 1127.3L1255.0 1120.8L1260.0 1115.4L1265.0 1110.1L1270.0 1104.8L1275.0 1099.7L1280.0 1094.6L1285.0 1088.3L1290.0 1081.3L1295.0 1074.5L1300.0 1067.5L1305.0 1060.5L1310.0 1053.7L1315.0 1046.8L1320.0 1039.1L1325.0 1030.0L1330.0 1021.1L1335.0 1012.4L1340.0 1004.6L1345.0 997.8L1350.0 991.0L1355.0 984.1L1360.0 976.6L1365.0 969.1L1370.0 961.8" stroke-dasharray="18 11" stroke-dashoffset="1" stroke-width="5.2"/>
<path d="M1150.0 1306.9L1155.0 1291.0L1160.0 1279.5L1165.0 1269.1L1170.0 1259.4L1175.0 1250.2L1180.0 1241.7L1185.0 1234.1L1190.0 1226.8L1195.0 1219.6L1200.0 1212.7L1205.0 1205.9L1210.0 1199.2L1215.0 1192.7L1220.0 1181.6L1225.0 1167.7L1230.0 1154.3L1235.0 1144.7L1240.0 1137.4L1245.0 1130.3L1250.0 1123.3L1255.0 1116.8L1260.0 1111.4L1265.0 1106.1L1270.0 1100.8L1275.0 1095.7L1280.0 1090.6L1285.0 1084.3L1290.0 1077.3L1295.0 1070.5L1300.0 1063.5L1305.0 1056.5L1310.0 1049.7L1315.0 1042.8L1320.0 1035.1L1325.0 1026.0L1330.0 1017.1L1335.0 1008.4L1340.0 1000.6L1345.0 993.8L1350.0 987.0L1355.0 980.1L1360.0 972.6L1365.0 965.1L1370.0 957.8" stroke-dasharray="18 11" stroke-dashoffset="4" stroke-width="4.6"/>
<path d="M1150.0 1310.9L1155.0 1303.5L1160.0 1296.4L1165.0 1289.5L1170.0 1282.7L1175.0 1276.1L1180.0 1269.9L1185.0 1264.4L1190.0 1259.0L1195.0 1253.6L1200.0 1248.3L1205.0 1243.1L1210.0 1237.8L1215.0 1232.6L1220.0 1221.6L1225.0 1206.8L1230.0 1192.1L1235.0 1182.0L1240.0 1174.9L1245.0 1167.8L1250.0 1160.8L1255.0 1154.2L1260.0 1149.1L1265.0 1144.1L1270.0 1139.1L1275.0 1134.1L1280.0 1129.2L1285.0 1122.5L1290.0 1114.8L1295.0 1107.1L1300.0 1099.3L1305.0 1092.0L1310.0 1084.6L1315.0 1077.3L1320.0 1068.5L1325.0 1057.6L1330.0 1046.8L1335.0 1036.1L1340.0 1026.4L1345.0 1018.0L1350.0 1009.6L1355.0 1001.1L1360.0 992.1L1365.0 983.1L1370.0 974.2" stroke-dasharray="18 11" stroke-dashoffset="22" stroke-width="4.6"/>
<path d="M1121.0 1335.3L1126.0 1319.5L1131.0 1308.3L1136.0 1298.4L1141.0 1289.2L1146.0 1280.5L1151.0 1271.8L1156.0 1263.0L1161.0 1254.5L1166.0 1246.3L1171.0 1238.3L1176.0 1230.6L1181.0 1223.5L1186.0 1216.8L1191.0 1210.3L1196.0 1203.9L1201.0 1197.6L1206.0 1191.4L1211.0 1185.3L1216.0 1179.3L1221.0 1167.8L1226.0 1155.3L1231.0 1143.2L1236.0 1135.4L1241.0 1128.8L1246.0 1122.2L1251.0 1115.7L1256.0 1109.8L1261.0 1104.8L1266.0 1099.8L1271.0 1094.8L1276.0 1089.9L1281.0 1085.1L1286.0 1078.8L1291.0 1072.3L1296.0 1065.9L1301.0 1059.2L1306.0 1052.6L1311.0 1046.0L1316.0 1039.5L1321.0 1031.7L1326.0 1023.1L1331.0 1014.6L1336.0 1006.6L1341.0 999.5L1346.0 993.0L1351.0 986.6L1356.0 979.9L1361.0 972.7L1366.0 965.5L1371.0 958.5" stroke-dasharray="18 11" stroke-dashoffset="25" stroke-width="5.2"/>
<path d="M1121.0 1331.3L1126.0 1315.5L1131.0 1304.3L1136.0 1294.4L1141.0 1285.2L1146.0 1276.5L1151.0 1267.8L1156.0 1259.0L1161.0 1250.5L1166.0 1242.3L1171.0 1234.3L1176.0 1226.6L1181.0 1219.5L1186.0 1212.8L1191.0 1206.3L1196.0 1199.9L1201.0 1193.6L1206.0 1187.4L1211.0 1181.3L1216.0 1175.3L1221.0 1163.8L1226.0 1151.3L1231.0 1139.2L1236.0 1131.4L1241.0 1124.8L1246.0 1118.2L1251.0 1111.7L1256.0 1105.8L1261.0 1100.8L1266.0 1095.8L1271.0 1090.8L1276.0 1085.9L1281.0 1081.1L1286.0 1074.8L1291.0 1068.3L1296.0 1061.9L1301.0 1055.2L1306.0 1048.6L1311.0 1042.0L1316.0 1035.5L1321.0 1027.7L1326.0 1019.1L1331.0 1010.6L1336.0 1002.6L1341.0 995.5L1346.0 989.0L1351.0 982.6L1356.0 975.9L1361.0 968.7L1366.0 961.5L1371.0 954.5" stroke-dasharray="18 11" stroke-dashoffset="28" stroke-width="4.6"/>
<path d="M1089.3 1357.3L1094.3 1344.1L1099.3 1334.7L1104.3 1325.2L1109.3 1312.6L1114.3 1303.5L1119.3 1294.9L1124.3 1286.6L1129.3 1278.7L1134.3 1271.1L1139.3 1263.7L1144.3 1256.5L1149.3 1249.3L1154.3 1241.7L1159.3 1234.3L1164.3 1227.0L1169.3 1219.8L1174.3 1212.8L1179.3 1206.1L1184.3 1200.0L1189.3 1194.0L1194.3 1188.1L1199.3 1182.3L1204.3 1176.5L1209.3 1170.8L1214.3 1165.2L1219.3 1156.8L1224.3 1145.3L1229.3 1134.3L1234.3 1125.6L1239.3 1119.4L1244.3 1113.3L1249.3 1107.2L1254.3 1101.4L1259.3 1096.6L1264.3 1091.8L1269.3 1087.1L1274.3 1082.5L1279.3 1077.9L1284.3 1072.5L1289.3 1066.4L1294.3 1060.4L1299.3 1054.3L1304.3 1047.9L1309.3 1041.6L1314.3 1035.3L1319.3 1028.5L1324.3 1020.4L1329.3 1012.4L1334.3 1004.6L1339.3 997.6L1344.3 991.5L1349.3 985.4L1354.3 979.3L1359.3 972.4L1364.3 965.5L1369.3 958.7" stroke-dasharray="18 11" stroke-dashoffset="1" stroke-width="5.2"/>
<path d="M1089.3 1353.3L1094.3 1340.1L1099.3 1330.7L1104.3 1321.2L1109.3 1308.6L1114.3 1299.5L1119.3 1290.9L1124.3 1282.6L1129.3 1274.7L1134.3 1267.1L1139.3 1259.7L1144.3 1252.5L1149.3 1245.3L1154.3 1237.7L1159.3 1230.3L1164.3 1223.0L1169.3 1215.8L1174.3 1208.8L1179.3 1202.1L1184.3 1196.0L1189.3 1190.0L1194.3 1184.1L1199.3 1178.3L1204.3 1172.5L1209.3 1166.8L1214.3 1161.2L1219.3 1152.8L1224.3 1141.3L1229.3 1130.3L1234.3 1121.6L1239.3 1115.4L1244.3 1109.3L1249.3 1103.2L1254.3 1097.4L1259.3 1092.6L1264.3 1087.8L1269.3 1083.1L1274.3 1078.5L1279.3 1073.9L1284.3 1068.5L1289.3 1062.4L1294.3 1056.4L1299.3 1050.3L1304.3 1043.9L1309.3 1037.6L1314.3 1031.3L1319.3 1024.5L1324.3 1016.4L1329.3 1008.4L1334.3 1000.6L1339.3 993.6L1344.3 987.5L1349.3 981.4L1354.3 975.3L1359.3 968.4L1364.3 961.5L1369.3 954.7" stroke-dasharray="18 11" stroke-dashoffset="4" stroke-width="4.6"/>
<path d="M1089.3 1357.3L1094.3 1351.8L1099.3 1346.7L1104.3 1341.4L1109.3 1335.1L1114.3 1329.5L1119.3 1323.6L1124.3 1317.8L1129.3 1312.1L1134.3 1306.5L1139.3 1300.9L1144.3 1295.4L1149.3 1289.7L1154.3 1283.4L1159.3 1277.1L1164.3 1270.9L1169.3 1264.7L1174.3 1258.6L1179.3 1252.8L1184.3 1247.8L1189.3 1242.7L1194.3 1237.7L1199.3 1232.7L1204.3 1227.7L1209.3 1222.8L1214.3 1217.9L1219.3 1208.9L1224.3 1195.1L1229.3 1181.5L1234.3 1171.2L1239.3 1164.5L1244.3 1157.8L1249.3 1151.2L1254.3 1144.7L1259.3 1139.9L1264.3 1135.1L1269.3 1130.3L1274.3 1125.6L1279.3 1120.9L1284.3 1114.9L1289.3 1107.6L1294.3 1100.3L1299.3 1093.0L1304.3 1085.8L1309.3 1078.7L1314.3 1071.7L1319.3 1063.8L1324.3 1053.4L1329.3 1043.0L1334.3 1032.8L1339.3 1023.2L1344.3 1015.2L1349.3 1007.2L1354.3 999.2L1359.3 990.5L1364.3 981.9L1369.3 973.2" stroke-dasharray="18 11" stroke-dashoffset="23" stroke-width="4.6"/>
<path d="M1057.7 1386.6L1062.7 1373.6L1067.7 1362.6L1072.7 1351.6L1077.7 1341.4L1082.7 1331.7L1087.7 1323.3L1092.7 1316.2L1097.7 1309.3L1102.7 1302.5L1107.7 1288.0L1112.7 1277.0L1117.7 1269.8L1122.7 1262.8L1127.7 1255.9L1132.7 1249.2L1137.7 1242.7L1142.7 1236.3L1147.7 1230.0L1152.7 1223.3L1157.7 1216.5L1162.7 1209.8L1167.7 1203.3L1172.7 1196.8L1177.7 1190.5L1182.7 1184.8L1187.7 1179.2L1192.7 1173.6L1197.7 1168.1L1202.7 1162.7L1207.7 1157.4L1212.7 1152.0L1217.7 1146.1L1222.7 1135.6L1227.7 1125.5L1232.7 1116.2L1237.7 1110.5L1242.7 1104.7L1247.7 1099.1L1252.7 1093.5L1257.7 1088.7L1262.7 1084.2L1267.7 1079.8L1272.7 1075.3L1277.7 1070.9L1282.7 1066.4L1287.7 1060.7L1292.7 1055.0L1297.7 1049.4L1302.7 1043.3L1307.7 1037.2L1312.7 1031.2L1317.7 1025.2L1322.7 1017.7L1327.7 1010.1L1332.7 1002.6L1337.7 995.7L1342.7 989.8L1347.7 984.1L1352.7 978.3L1357.7 972.0L1362.7 965.4L1367.7 958.9" stroke-dasharray="18 11" stroke-dashoffset="11" stroke-width="5.2"/>
<path d="M1057.7 1382.6L1062.7 1369.6L1067.7 1358.6L1072.7 1347.6L1077.7 1337.4L1082.7 1327.7L1087.7 1319.3L1092.7 1312.2L1097.7 1305.3L1102.7 1298.5L1107.7 1284.0L1112.7 1273.0L1117.7 1265.8L1122.7 1258.8L1127.7 1251.9L1132.7 1245.2L1137.7 1238.7L1142.7 1232.3L1147.7 1226.0L1152.7 1219.3L1157.7 1212.5L1162.7 1205.8L1167.7 1199.3L1172.7 1192.8L1177.7 1186.5L1182.7 1180.8L1187.7 1175.2L1192.7 1169.6L1197.7 1164.1L1202.7 1158.7L1207.7 1153.4L1212.7 1148.0L1217.7 1142.1L1222.7 1131.6L1227.7 1121.5L1232.7 1112.2L1237.7 1106.5L1242.7 1100.7L1247.7 1095.1L1252.7 1089.5L1257.7 1084.7L1262.7 1080.2L1267.7 1075.8L1272.7 1071.3L1277.7 1066.9L1282.7 1062.4L1287.7 1056.7L1292.7 1051.0L1297.7 1045.4L1302.7 1039.3L1307.7 1033.2L1312.7 1027.2L1317.7 1021.2L1322.7 1013.7L1327.7 1006.1L1332.7 998.6L1337.7 991.7L1342.7 985.8L1347.7 980.1L1352.7 974.3L1357.7 968.0L1362.7 961.4L1367.7 954.9" stroke-dasharray="18 11" stroke-dashoffset="14" stroke-width="4.6"/>
<path d="M1026.0 1401.1L1031.0 1389.3L1036.0 1381.1L1041.0 1373.7L1046.0 1366.9L1051.0 1360.3L1056.0 1351.8L1061.0 1343.0L1066.0 1335.8L1071.0 1327.1L1076.0 1318.6L1081.0 1310.3L1086.0 1302.5L1091.0 1296.1L1096.0 1289.9L1101.0 1283.7L1106.0 1270.5L1111.0 1254.6L1116.0 1248.4L1121.0 1242.1L1126.0 1235.9L1131.0 1229.9L1136.0 1223.9L1141.0 1218.1L1146.0 1212.3L1151.0 1206.4L1156.0 1200.2L1161.0 1194.0L1166.0 1188.0L1171.0 1182.0L1176.0 1176.1L1181.0 1170.6L1186.0 1165.3L1191.0 1160.0L1196.0 1154.9L1201.0 1149.7L1206.0 1144.6L1211.0 1139.6L1216.0 1134.6L1221.0 1126.0L1226.0 1116.7L1231.0 1107.8L1236.0 1101.8L1241.0 1096.5L1246.0 1091.2L1251.0 1086.0L1256.0 1081.2L1261.0 1076.9L1266.0 1072.6L1271.0 1068.4L1276.0 1064.2L1281.0 1060.0L1286.0 1054.9L1291.0 1049.6L1296.0 1044.4L1301.0 1038.7L1306.0 1032.9L1311.0 1027.1L1316.0 1021.4L1321.0 1014.8L1326.0 1007.6L1331.0 1000.5L1336.0 993.9L1341.0 988.1L1346.0 982.6L1351.0 977.2L1356.0 971.5L1361.0 965.2L1366.0 959.0L1371.0 952.7" stroke-dasharray="18 11" stroke-dashoffset="17" stroke-width="5.2"/>
<path d="M1026.0 1397.1L1031.0 1385.3L1036.0 1377.1L1041.0 1369.7L1046.0 1362.9L1051.0 1356.3L1056.0 1347.8L1061.0 1339.0L1066.0 1331.8L1071.0 1323.1L1076.0 1314.6L1081.0 1306.3L1086.0 1298.5L1091.0 1292.1L1096.0 1285.9L1101.0 1279.7L1106.0 1266.5L1111.0 1250.6L1116.0 1244.4L1121.0 1238.1L1126.0 1231.9L1131.0 1225.9L1136.0 1219.9L1141.0 1214.1L1146.0 1208.3L1151.0 1202.4L1156.0 1196.2L1161.0 1190.0L1166.0 1184.0L1171.0 1178.0L1176.0 1172.1L1181.0 1166.6L1186.0 1161.3L1191.0 1156.0L1196.0 1150.9L1201.0 1145.7L1206.0 1140.6L1211.0 1135.6L1216.0 1130.6L1221.0 1122.0L1226.0 1112.7L1231.0 1103.8L1236.0 1097.8L1241.0 1092.5L1246.0 1087.2L1251.0 1082.0L1256.0 1077.2L1261.0 1072.9L1266.0 1068.6L1271.0 1064.4L1276.0 1060.2L1281.0 1056.0L1286.0 1050.9L1291.0 1045.6L1296.0 1040.4L1301.0 1034.7L1306.0 1028.9L1311.0 1023.1L1316.0 1017.4L1321.0 1010.8L1326.0 1003.6L1331.0 996.5L1336.0 989.9L1341.0 984.1L1346.0 978.6L1351.0 973.2L1356.0 967.5L1361.0 961.2L1366.0 955.0L1371.0 948.7" stroke-dasharray="18 11" stroke-dashoffset="20" stroke-width="4.6"/>
<path d="M1026.0 1401.1L1031.0 1396.6L1036.0 1392.4L1041.0 1388.4L1046.0 1384.4L1051.0 1380.4L1056.0 1375.8L1061.0 1371.0L1066.0 1366.0L1071.0 1359.0L1076.0 1352.0L1081.0 1345.1L1086.0 1338.5L1091.0 1333.9L1096.0 1329.3L1101.0 1324.7L1106.0 1317.4L1111.0 1309.0L1116.0 1303.9L1121.0 1298.7L1126.0 1293.5L1131.0 1288.4L1136.0 1283.3L1141.0 1278.2L1146.0 1273.2L1151.0 1267.7L1156.0 1261.9L1161.0 1256.2L1166.0 1250.4L1171.0 1244.7L1176.0 1239.1L1181.0 1234.0L1186.0 1229.2L1191.0 1224.5L1196.0 1219.7L1201.0 1215.0L1206.0 1210.4L1211.0 1205.7L1216.0 1201.1L1221.0 1189.9L1226.0 1177.2L1231.0 1164.8L1236.0 1157.3L1241.0 1151.0L1246.0 1144.8L1251.0 1138.6L1256.0 1133.0L1261.0 1128.4L1266.0 1123.9L1271.0 1119.3L1276.0 1114.8L1281.0 1110.3L1286.0 1103.9L1291.0 1097.0L1296.0 1090.1L1301.0 1083.1L1306.0 1076.3L1311.0 1069.5L1316.0 1062.7L1321.0 1054.1L1326.0 1044.2L1331.0 1034.3L1336.0 1024.7L1341.0 1016.3L1346.0 1008.7L1351.0 1001.1L1356.0 993.2L1361.0 984.8L1366.0 976.5L1371.0 968.2" stroke-dasharray="18 11" stroke-dashoffset="0" stroke-width="4.6"/>
<path d="M994.4 1421.8L999.4 1407.8L1004.4 1397.8L1009.4 1388.9L1014.4 1381.0L1019.4 1374.5L1024.4 1368.3L1029.4 1362.2L1034.4 1356.4L1039.4 1350.7L1044.4 1345.0L1049.4 1339.4L1054.4 1333.2L1059.4 1321.0L1064.4 1315.1L1069.4 1307.5L1074.4 1299.9L1079.4 1292.4L1084.4 1285.0L1089.4 1278.9L1094.4 1273.0L1099.4 1267.2L1104.4 1257.4L1109.4 1236.4L1114.4 1228.9L1119.4 1223.2L1124.4 1217.5L1129.4 1212.0L1134.4 1206.6L1139.4 1201.2L1144.4 1195.9L1149.4 1190.5L1154.4 1184.8L1159.4 1179.1L1164.4 1173.5L1169.4 1167.9L1174.4 1162.4L1179.4 1157.1L1184.4 1152.1L1189.4 1147.1L1194.4 1142.2L1199.4 1137.3L1204.4 1132.5L1209.4 1127.7L1214.4 1122.9L1219.4 1116.4L1224.4 1107.9L1229.4 1099.9L1234.4 1093.4L1239.4 1088.4L1244.4 1083.5L1249.4 1078.6L1254.4 1073.9L1259.4 1069.8L1264.4 1065.7L1269.4 1061.7L1274.4 1057.7L1279.4 1053.7L1284.4 1049.3L1289.4 1044.3L1294.4 1039.4L1299.4 1034.3L1304.4 1028.7L1309.4 1023.1L1314.4 1017.6L1319.4 1011.7L1324.4 1005.0L1329.4 998.4L1334.4 991.9L1339.4 986.2L1344.4 981.1L1349.4 976.0L1354.4 970.9L1359.4 964.9L1364.4 958.9L1369.4 952.9" stroke-dasharray="18 11" stroke-dashoffset="1" stroke-width="5.2"/>
<path d="M994.4 1417.8L999.4 1403.8L1004.4 1393.8L1009.4 1384.9L1014.4 1377.0L1019.4 1370.5L1024.4 1364.3L1029.4 1358.2L1034.4 1352.4L1039.4 1346.7L1044.4 1341.0L1049.4 1335.4L1054.4 1329.2L1059.4 1317.0L1064.4 1311.1L1069.4 1303.5L1074.4 1295.9L1079.4 1288.4L1084.4 1281.0L1089.4 1274.9L1094.4 1269.0L1099.4 1263.2L1104.4 1253.4L1109.4 1232.4L1114.4 1224.9L1119.4 1219.2L1124.4 1213.5L1129.4 1208.0L1134.4 1202.6L1139.4 1197.2L1144.4 1191.9L1149.4 1186.5L1154.4 1180.8L1159.4 1175.1L1164.4 1169.5L1169.4 1163.9L1174.4 1158.4L1179.4 1153.1L1184.4 1148.1L1189.4 1143.1L1194.4 1138.2L1199.4 1133.3L1204.4 1128.5L1209.4 1123.7L1214.4 1118.9L1219.4 1112.4L1224.4 1103.9L1229.4 1095.9L1234.4 1089.4L1239.4 1084.4L1244.4 1079.5L1249.4 1074.6L1254.4 1069.9L1259.4 1065.8L1264.4 1061.7L1269.4 1057.7L1274.4 1053.7L1279.4 1049.7L1284.4 1045.3L1289.4 1040.3L1294.4 1035.4L1299.4 1030.3L1304.4 1024.7L1309.4 1019.1L1314.4 1013.6L1319.4 1007.7L1324.4 1001.0L1329.4 994.4L1334.4 987.9L1339.4 982.2L1344.4 977.1L1349.4 972.0L1354.4 966.9L1359.4 960.9L1364.4 954.9L1369.4 948.9" stroke-dasharray="18 11" stroke-dashoffset="4" stroke-width="4.6"/>
<path d="M962.7 1440.5L967.7 1428.4L972.7 1420.3L977.7 1411.5L982.7 1402.8L987.7 1394.7L992.7 1387.0L997.7 1379.6L1002.7 1372.5L1007.7 1365.6L1012.7 1358.9L1017.7 1353.4L1022.7 1348.0L1027.7 1342.7L1032.7 1337.5L1037.7 1332.3L1042.7 1327.2L1047.7 1322.0L1052.7 1316.8L1057.7 1302.7L1062.7 1296.5L1067.7 1290.1L1072.7 1283.1L1077.7 1276.2L1082.7 1269.4L1087.7 1263.2L1092.7 1257.7L1097.7 1252.1L1102.7 1246.6L1107.7 1224.3L1112.7 1210.7L1117.7 1205.5L1122.7 1200.3L1127.7 1195.2L1132.7 1190.2L1137.7 1185.2L1142.7 1180.3L1147.7 1175.4L1152.7 1170.2L1157.7 1164.9L1162.7 1159.7L1167.7 1154.5L1172.7 1149.3L1177.7 1144.2L1182.7 1139.4L1187.7 1134.7L1192.7 1130.1L1197.7 1125.4L1202.7 1120.8L1207.7 1116.2L1212.7 1111.7L1217.7 1106.7L1222.7 1099.1L1227.7 1091.7L1232.7 1085.1L1237.7 1080.5L1242.7 1075.9L1247.7 1071.4L1252.7 1066.9L1257.7 1062.8L1262.7 1059.0L1267.7 1055.1L1272.7 1051.3L1277.7 1047.5L1282.7 1043.6L1287.7 1039.0L1292.7 1034.4L1297.7 1029.8L1302.7 1024.5L1307.7 1019.1L1312.7 1013.8L1317.7 1008.5L1322.7 1002.3L1327.7 996.0L1332.7 989.8L1337.7 984.3L1342.7 979.5L1347.7 974.7L1352.7 969.9L1357.7 964.4L1362.7 958.7L1367.7 953.0" stroke-dasharray="18 11" stroke-dashoffset="5" stroke-width="5.2"/>
<path d="M962.7 1436.5L967.7 1424.4L972.7 1416.3L977.7 1407.5L982.7 1398.8L987.7 1390.7L992.7 1383.0L997.7 1375.6L1002.7 1368.5L1007.7 1361.6L1012.7 1354.9L1017.7 1349.4L1022.7 1344.0L1027.7 1338.7L1032.7 1333.5L1037.7 1328.3L1042.7 1323.2L1047.7 1318.0L1052.7 1312.8L1057.7 1298.7L1062.7 1292.5L1067.7 1286.1L1072.7 1279.1L1077.7 1272.2L1082.7 1265.4L1087.7 1259.2L1092.7 1253.7L1097.7 1248.1L1102.7 1242.6L1107.7 1220.3L1112.7 1206.7L1117.7 1201.5L1122.7 1196.3L1127.7 1191.2L1132.7 1186.2L1137.7 1181.2L1142.7 1176.3L1147.7 1171.4L1152.7 1166.2L1157.7 1160.9L1162.7 1155.7L1167.7 1150.5L1172.7 1145.3L1177.7 1140.2L1182.7 1135.4L1187.7 1130.7L1192.7 1126.1L1197.7 1121.4L1202.7 1116.8L1207.7 1112.2L1212.7 1107.7L1217.7 1102.7L1222.7 1095.1L1227.7 1087.7L1232.7 1081.1L1237.7 1076.5L1242.7 1071.9L1247.7 1067.4L1252.7 1062.9L1257.7 1058.8L1262.7 1055.0L1267.7 1051.1L1272.7 1047.3L1277.7 1043.5L1282.7 1039.6L1287.7 1035.0L1292.7 1030.4L1297.7 1025.8L1302.7 1020.5L1307.7 1015.1L1312.7 1009.8L1317.7 1004.5L1322.7 998.3L1327.7 992.0L1332.7 985.8L1337.7 980.3L1342.7 975.5L1347.7 970.7L1352.7 965.9L1357.7 960.4L1362.7 954.7L1367.7 949.0" stroke-dasharray="18 11" stroke-dashoffset="8" stroke-width="4.6"/>
<path d="M962.7 1440.5L967.7 1436.6L972.7 1433.1L977.7 1427.7L982.7 1421.9L987.7 1416.2L992.7 1410.6L997.7 1405.1L1002.7 1399.7L1007.7 1394.4L1012.7 1389.2L1017.7 1385.3L1022.7 1381.6L1027.7 1377.9L1032.7 1374.2L1037.7 1370.5L1042.7 1366.9L1047.7 1363.2L1052.7 1359.6L1057.7 1352.2L1062.7 1348.1L1067.7 1342.6L1072.7 1336.2L1077.7 1329.8L1082.7 1323.5L1087.7 1318.0L1092.7 1313.6L1097.7 1309.2L1102.7 1304.8L1107.7 1293.2L1112.7 1285.3L1117.7 1280.5L1122.7 1275.8L1127.7 1271.0L1132.7 1266.3L1137.7 1261.7L1142.7 1257.0L1147.7 1252.4L1152.7 1247.1L1157.7 1241.8L1162.7 1236.4L1167.7 1231.1L1172.7 1225.8L1177.7 1220.6L1182.7 1216.0L1187.7 1211.5L1192.7 1207.0L1197.7 1202.6L1202.7 1198.2L1207.7 1193.7L1212.7 1189.3L1217.7 1183.9L1222.7 1172.1L1227.7 1160.5L1232.7 1149.9L1237.7 1144.0L1242.7 1138.1L1247.7 1132.3L1252.7 1126.5L1257.7 1121.7L1262.7 1117.4L1267.7 1113.1L1272.7 1108.7L1277.7 1104.4L1282.7 1099.8L1287.7 1093.3L1292.7 1086.8L1297.7 1080.3L1302.7 1073.6L1307.7 1067.1L1312.7 1060.6L1317.7 1054.1L1322.7 1044.8L1327.7 1035.5L1332.7 1026.1L1337.7 1017.1L1342.7 1009.8L1347.7 1002.5L1352.7 995.3L1357.7 987.4L1362.7 979.4L1367.7 971.4" stroke-dasharray="18 11" stroke-dashoffset="28" stroke-width="4.6"/>
<path d="M931.0 1448.2L936.0 1436.0L941.0 1428.1L946.0 1421.2L951.0 1414.7L956.0 1408.5L961.0 1402.6L966.0 1397.0L971.0 1391.4L976.0 1385.4L981.0 1378.5L986.0 1371.8L991.0 1365.4L996.0 1359.1L1001.0 1352.9L1006.0 1346.9L1011.0 1341.0L1016.0 1335.7L1021.0 1330.7L1026.0 1325.8L1031.0 1321.0L1036.0 1316.1L1041.0 1311.4L1046.0 1306.5L1051.0 1301.6L1056.0 1290.6L1061.0 1279.6L1066.0 1274.0L1071.0 1267.6L1076.0 1261.2L1081.0 1254.9L1086.0 1248.7L1091.0 1243.4L1096.0 1238.0L1101.0 1232.7L1106.0 1214.9L1111.0 1193.3L1116.0 1188.6L1121.0 1183.9L1126.0 1179.2L1131.0 1174.5L1136.0 1169.9L1141.0 1165.3L1146.0 1160.8L1151.0 1156.1L1156.0 1151.2L1161.0 1146.3L1166.0 1141.5L1171.0 1136.6L1176.0 1131.8L1181.0 1127.2L1186.0 1122.8L1191.0 1118.3L1196.0 1113.9L1201.0 1109.5L1206.0 1105.1L1211.0 1100.8L1216.0 1096.4L1221.0 1090.1L1226.0 1083.4L1231.0 1077.2L1236.0 1072.6L1241.0 1068.4L1246.0 1064.2L1251.0 1060.0L1256.0 1056.0L1261.0 1052.3L1266.0 1048.7L1271.0 1045.0L1276.0 1041.4L1281.0 1037.7L1286.0 1033.6L1291.0 1029.3L1296.0 1025.1L1301.0 1020.3L1306.0 1015.2L1311.0 1010.1L1316.0 1005.0L1321.0 999.4L1326.0 993.5L1331.0 987.7L1336.0 982.4L1341.0 977.7L1346.0 973.2L1351.0 968.7L1356.0 963.8L1361.0 958.3L1366.0 952.9L1371.0 947.5" stroke-dasharray="18 11" stroke-dashoffset="6" stroke-width="5.2"/>
<path d="M931.0 1444.2L936.0 1432.0L941.0 1424.1L946.0 1417.2L951.0 1410.7L956.0 1404.5L961.0 1398.6L966.0 1393.0L971.0 1387.4L976.0 1381.4L981.0 1374.5L986.0 1367.8L991.0 1361.4L996.0 1355.1L1001.0 1348.9L1006.0 1342.9L1011.0 1337.0L1016.0 1331.7L1021.0 1326.7L1026.0 1321.8L1031.0 1317.0L1036.0 1312.1L1041.0 1307.4L1046.0 1302.5L1051.0 1297.6L1056.0 1286.6L1061.0 1275.6L1066.0 1270.0L1071.0 1263.6L1076.0 1257.2L1081.0 1250.9L1086.0 1244.7L1091.0 1239.4L1096.0 1234.0L1101.0 1228.7L1106.0 1210.9L1111.0 1189.3L1116.0 1184.6L1121.0 1179.9L1126.0 1175.2L1131.0 1170.5L1136.0 1165.9L1141.0 1161.3L1146.0 1156.8L1151.0 1152.1L1156.0 1147.2L1161.0 1142.3L1166.0 1137.5L1171.0 1132.6L1176.0 1127.8L1181.0 1123.2L1186.0 1118.8L1191.0 1114.3L1196.0 1109.9L1201.0 1105.5L1206.0 1101.1L1211.0 1096.8L1216.0 1092.4L1221.0 1086.1L1226.0 1079.4L1231.0 1073.2L1236.0 1068.6L1241.0 1064.4L1246.0 1060.2L1251.0 1056.0L1256.0 1052.0L1261.0 1048.3L1266.0 1044.7L1271.0 1041.0L1276.0 1037.4L1281.0 1033.7L1286.0 1029.6L1291.0 1025.3L1296.0 1021.1L1301.0 1016.3L1306.0 1011.2L1311.0 1006.1L1316.0 1001.0L1321.0 995.4L1326.0 989.5L1331.0 983.7L1336.0 978.4L1341.0 973.7L1346.0 969.2L1351.0 964.7L1356.0 959.8L1361.0 954.3L1366.0 948.9L1371.0 943.5" stroke-dasharray="18 11" stroke-dashoffset="9" stroke-width="4.6"/>
<path d="M899.4 1467.4L904.4 1450.9L909.4 1440.0L914.4 1430.7L919.4 1422.4L924.4 1415.3L929.4 1409.8L934.4 1404.5L939.4 1399.4L944.4 1394.5L949.4 1389.3L954.4 1384.2L959.4 1379.2L964.4 1374.2L969.4 1369.3L974.4 1364.4L979.4 1358.4L984.4 1352.6L989.4 1346.9L994.4 1341.3L999.4 1335.8L1004.4 1330.4L1009.4 1325.0L1014.4 1319.9L1019.4 1315.2L1024.4 1310.6L1029.4 1306.0L1034.4 1301.4L1039.4 1296.8L1044.4 1292.2L1049.4 1287.4L1054.4 1281.4L1059.4 1263.9L1064.4 1258.9L1069.4 1252.9L1074.4 1247.0L1079.4 1241.1L1084.4 1235.2L1089.4 1229.9L1094.4 1224.7L1099.4 1219.6L1104.4 1208.1L1109.4 1179.8L1114.4 1172.5L1119.4 1168.1L1124.4 1163.7L1129.4 1159.4L1134.4 1155.1L1139.4 1150.9L1144.4 1146.6L1149.4 1142.4L1154.4 1137.9L1159.4 1133.3L1164.4 1128.8L1169.4 1124.3L1174.4 1119.8L1179.4 1115.4L1184.4 1111.1L1189.4 1106.9L1194.4 1102.7L1199.4 1098.5L1204.4 1094.3L1209.4 1090.2L1214.4 1086.0L1219.4 1081.0L1224.4 1075.0L1229.4 1069.5L1234.4 1064.8L1239.4 1060.9L1244.4 1057.0L1249.4 1053.1L1254.4 1049.3L1259.4 1045.8L1264.4 1042.3L1269.4 1038.8L1274.4 1035.3L1279.4 1031.9L1284.4 1028.2L1289.4 1024.3L1294.4 1020.3L1299.4 1016.1L1304.4 1011.2L1309.4 1006.3L1314.4 1001.4L1319.4 996.4L1324.4 990.9L1329.4 985.5L1334.4 980.3L1339.4 975.8L1344.4 971.6L1349.4 967.4L1354.4 963.1L1359.4 957.9L1364.4 952.7L1369.4 947.5" stroke-dasharray="18 11" stroke-dashoffset="22" stroke-width="5.2"/>
<path d="M899.4 1463.4L904.4 1446.9L909.4 1436.0L914.4 1426.7L919.4 1418.4L924.4 1411.3L929.4 1405.8L934.4 1400.5L939.4 1395.4L944.4 1390.5L949.4 1385.3L954.4 1380.2L959.4 1375.2L964.4 1370.2L969.4 1365.3L974.4 1360.4L979.4 1354.4L984.4 1348.6L989.4 1342.9L994.4 1337.3L999.4 1331.8L1004.4 1326.4L1009.4 1321.0L1014.4 1315.9L1019.4 1311.2L1024.4 1306.6L1029.4 1302.0L1034.4 1297.4L1039.4 1292.8L1044.4 1288.2L1049.4 1283.4L1054.4 1277.4L1059.4 1259.9L1064.4 1254.9L1069.4 1248.9L1074.4 1243.0L1079.4 1237.1L1084.4 1231.2L1089.4 1225.9L1094.4 1220.7L1099.4 1215.6L1104.4 1204.1L1109.4 1175.8L1114.4 1168.5L1119.4 1164.1L1124.4 1159.7L1129.4 1155.4L1134.4 1151.1L1139.4 1146.9L1144.4 1142.6L1149.4 1138.4L1154.4 1133.9L1159.4 1129.3L1164.4 1124.8L1169.4 1120.3L1174.4 1115.8L1179.4 1111.4L1184.4 1107.1L1189.4 1102.9L1194.4 1098.7L1199.4 1094.5L1204.4 1090.3L1209.4 1086.2L1214.4 1082.0L1219.4 1077.0L1224.4 1071.0L1229.4 1065.5L1234.4 1060.8L1239.4 1056.9L1244.4 1053.0L1249.4 1049.1L1254.4 1045.3L1259.4 1041.8L1264.4 1038.3L1269.4 1034.8L1274.4 1031.3L1279.4 1027.9L1284.4 1024.2L1289.4 1020.3L1294.4 1016.3L1299.4 1012.1L1304.4 1007.2L1309.4 1002.3L1314.4 997.4L1319.4 992.4L1324.4 986.9L1329.4 981.5L1334.4 976.3L1339.4 971.8L1344.4 967.6L1349.4 963.4L1354.4 959.1L1359.4 953.9L1364.4 948.7L1369.4 943.5" stroke-dasharray="18 11" stroke-dashoffset="25" stroke-width="4.6"/>
<path d="M899.4 1467.4L904.4 1460.2L909.4 1453.8L914.4 1447.7L919.4 1442.0L924.4 1437.3L929.4 1434.1L934.4 1431.0L939.4 1427.9L944.4 1424.9L949.4 1421.8L954.4 1418.8L959.4 1415.7L964.4 1412.7L969.4 1409.7L974.4 1406.6L979.4 1401.5L984.4 1396.6L989.4 1391.7L994.4 1386.8L999.4 1382.0L1004.4 1377.3L1009.4 1372.5L1014.4 1368.2L1019.4 1364.7L1024.4 1361.2L1029.4 1357.7L1034.4 1354.3L1039.4 1350.8L1044.4 1347.4L1049.4 1343.9L1054.4 1339.7L1059.4 1330.4L1064.4 1326.7L1069.4 1320.9L1074.4 1314.9L1079.4 1309.1L1084.4 1303.2L1089.4 1298.6L1094.4 1294.4L1099.4 1290.2L1104.4 1283.0L1109.4 1268.1L1114.4 1262.7L1119.4 1258.3L1124.4 1254.0L1129.4 1249.7L1134.4 1245.4L1139.4 1241.1L1144.4 1236.8L1149.4 1232.4L1154.4 1227.5L1159.4 1222.5L1164.4 1217.5L1169.4 1212.6L1174.4 1207.7L1179.4 1202.9L1184.4 1198.7L1189.4 1194.5L1194.4 1190.2L1199.4 1186.0L1204.4 1181.8L1209.4 1177.6L1214.4 1173.4L1219.4 1166.1L1224.4 1155.4L1229.4 1144.8L1234.4 1136.7L1239.4 1131.2L1244.4 1125.8L1249.4 1120.3L1254.4 1114.9L1259.4 1110.8L1264.4 1106.7L1269.4 1102.6L1274.4 1098.4L1279.4 1094.3L1284.4 1089.3L1289.4 1083.2L1294.4 1077.1L1299.4 1070.8L1304.4 1064.5L1309.4 1058.2L1314.4 1051.9L1319.4 1045.0L1324.4 1036.1L1329.4 1027.2L1334.4 1018.4L1339.4 1010.4L1344.4 1003.5L1349.4 996.6L1354.4 989.7L1359.4 982.0L1364.4 974.3L1369.4 966.6" stroke-dasharray="18 11" stroke-dashoffset="27" stroke-width="4.6"/>
<path d="M870.4 1488.8L875.4 1470.1L880.4 1457.8L885.4 1447.1L890.4 1437.5L895.4 1428.5L900.4 1420.5L905.4 1413.5L910.4 1406.9L915.4 1400.7L920.4 1394.8L925.4 1389.8L930.4 1385.4L935.4 1381.0L940.4 1376.8L945.4 1372.5L950.4 1367.8L955.4 1363.1L960.4 1358.5L965.4 1353.9L970.4 1349.3L975.4 1344.5L980.4 1339.2L985.4 1334.0L990.4 1328.8L995.4 1323.8L1000.4 1318.8L1005.4 1313.8L1010.4 1308.9L1015.4 1304.2L1020.4 1299.8L1025.4 1295.3L1030.4 1290.9L1035.4 1286.5L1040.4 1282.1L1045.4 1277.6L1050.4 1273.0L1055.4 1263.0L1060.4 1247.9L1065.4 1242.8L1070.4 1237.2L1075.4 1231.7L1080.4 1226.1L1085.4 1220.6L1090.4 1215.6L1095.4 1210.5L1100.4 1205.5L1105.4 1188.6L1110.4 1160.1L1115.4 1156.1L1120.4 1152.0L1125.4 1148.0L1130.4 1144.0L1135.4 1140.0L1140.4 1136.0L1145.4 1132.1L1150.4 1128.0L1155.4 1123.9L1160.4 1119.6L1165.4 1115.4L1170.4 1111.1L1175.4 1106.9L1180.4 1102.8L1185.4 1098.7L1190.4 1094.7L1195.4 1090.7L1200.4 1086.6L1205.4 1082.6L1210.4 1078.6L1215.4 1074.6L1220.4 1069.8L1225.4 1064.6L1230.4 1059.9L1235.4 1055.9L1240.4 1052.3L1245.4 1048.7L1250.4 1045.1L1255.4 1041.5L1260.4 1038.2L1265.4 1034.9L1270.4 1031.5L1275.4 1028.2L1280.4 1024.9L1285.4 1021.4L1290.4 1017.7L1295.4 1014.1L1300.4 1009.9L1305.4 1005.2L1310.4 1000.5L1315.4 995.8L1320.4 990.9L1325.4 985.8L1330.4 980.7L1335.4 976.0L1340.4 972.0L1345.4 968.0L1350.4 964.1L1355.4 959.9L1360.4 954.9L1365.4 949.9L1370.4 945.0" stroke-dasharray="18 11" stroke-dashoffset="27" stroke-width="5.2"/>
<path d="M870.4 1484.8L875.4 1466.1L880.4 1453.8L885.4 1443.1L890.4 1433.5L895.4 1424.5L900.4 1416.5L905.4 1409.5L910.4 1402.9L915.4 1396.7L920.4 1390.8L925.4 1385.8L930.4 1381.4L935.4 1377.0L940.4 1372.8L945.4 1368.5L950.4 1363.8L955.4 1359.1L960.4 1354.5L965.4 1349.9L970.4 1345.3L975.4 1340.5L980.4 1335.2L985.4 1330.0L990.4 1324.8L995.4 1319.8L1000.4 1314.8L1005.4 1309.8L1010.4 1304.9L1015.4 1300.2L1020.4 1295.8L1025.4 1291.3L1030.4 1286.9L1035.4 1282.5L1040.4 1278.1L1045.4 1273.6L1050.4 1269.0L1055.4 1259.0L1060.4 1243.9L1065.4 1238.8L1070.4 1233.2L1075.4 1227.7L1080.4 1222.1L1085.4 1216.6L1090.4 1211.6L1095.4 1206.5L1100.4 1201.5L1105.4 1184.6L1110.4 1156.1L1115.4 1152.1L1120.4 1148.0L1125.4 1144.0L1130.4 1140.0L1135.4 1136.0L1140.4 1132.0L1145.4 1128.1L1150.4 1124.0L1155.4 1119.9L1160.4 1115.6L1165.4 1111.4L1170.4 1107.1L1175.4 1102.9L1180.4 1098.8L1185.4 1094.7L1190.4 1090.7L1195.4 1086.7L1200.4 1082.6L1205.4 1078.6L1210.4 1074.6L1215.4 1070.6L1220.4 1065.8L1225.4 1060.6L1230.4 1055.9L1235.4 1051.9L1240.4 1048.3L1245.4 1044.7L1250.4 1041.1L1255.4 1037.5L1260.4 1034.2L1265.4 1030.9L1270.4 1027.5L1275.4 1024.2L1280.4 1020.9L1285.4 1017.4L1290.4 1013.7L1295.4 1010.1L1300.4 1005.9L1305.4 1001.2L1310.4 996.5L1315.4 991.8L1320.4 986.9L1325.4 981.8L1330.4 976.7L1335.4 972.0L1340.4 968.0L1345.4 964.0L1350.4 960.1L1355.4 955.9L1360.4 950.9L1365.4 945.9L1370.4 941.0" stroke-dasharray="18 11" stroke-dashoffset="30" stroke-width="4.6"/>
<path d="M844.0 1503.2L849.0 1481.9L854.0 1469.4L859.0 1459.3L864.0 1450.6L869.0 1441.7L874.0 1433.2L879.0 1425.2L884.0 1417.5L889.0 1410.1L894.0 1403.0L899.0 1396.3L904.0 1391.1L909.0 1386.0L914.0 1381.1L919.0 1376.4L924.0 1372.0L929.0 1368.1L934.0 1364.3L939.0 1360.5L944.0 1356.7L949.0 1352.3L954.0 1347.8L959.0 1343.4L964.0 1339.0L969.0 1334.6L974.0 1330.2L979.0 1325.4L984.0 1320.6L989.0 1315.8L994.0 1311.1L999.0 1306.5L1004.0 1301.9L1009.0 1297.3L1014.0 1292.8L1019.0 1288.5L1024.0 1284.2L1029.0 1279.9L1034.0 1275.6L1039.0 1271.3L1044.0 1267.1L1049.0 1262.5L1054.0 1257.9L1059.0 1236.1L1064.0 1231.2L1069.0 1226.0L1074.0 1220.8L1079.0 1215.5L1084.0 1210.3L1089.0 1205.3L1094.0 1200.4L1099.0 1195.5L1104.0 1185.3L1109.0 1153.1L1114.0 1143.5L1119.0 1139.7L1124.0 1135.9L1129.0 1132.2L1134.0 1128.4L1139.0 1124.7L1144.0 1121.0L1149.0 1117.2L1154.0 1113.4L1159.0 1109.4L1164.0 1105.4L1169.0 1101.4L1174.0 1097.4L1179.0 1093.4L1184.0 1089.5L1189.0 1085.7L1194.0 1081.8L1199.0 1077.9L1204.0 1074.1L1209.0 1070.2L1214.0 1066.4L1219.0 1062.2L1224.0 1057.6L1229.0 1053.4L1234.0 1049.6L1239.0 1046.2L1244.0 1042.9L1249.0 1039.5L1254.0 1036.2L1259.0 1033.0L1264.0 1029.8L1269.0 1026.6L1274.0 1023.4L1279.0 1020.2L1284.0 1016.9L1289.0 1013.5L1294.0 1010.2L1299.0 1006.5L1304.0 1002.0L1309.0 997.4L1314.0 992.9L1319.0 988.3L1324.0 983.5L1329.0 978.7L1334.0 974.1L1339.0 970.3L1344.0 966.6L1349.0 962.9L1354.0 959.2L1359.0 954.5L1364.0 949.7L1369.0 944.9" stroke-dasharray="18 11" stroke-dashoffset="10" stroke-width="5.2"/>
<path d="M844.0 1499.2L849.0 1477.9L854.0 1465.4L859.0 1455.3L864.0 1446.6L869.0 1437.7L874.0 1429.2L879.0 1421.2L884.0 1413.5L889.0 1406.1L894.0 1399.0L899.0 1392.3L904.0 1387.1L909.0 1382.0L914.0 1377.1L919.0 1372.4L924.0 1368.0L929.0 1364.1L934.0 1360.3L939.0 1356.5L944.0 1352.7L949.0 1348.3L954.0 1343.8L959.0 1339.4L964.0 1335.0L969.0 1330.6L974.0 1326.2L979.0 1321.4L984.0 1316.6L989.0 1311.8L994.0 1307.1L999.0 1302.5L1004.0 1297.9L1009.0 1293.3L1014.0 1288.8L1019.0 1284.5L1024.0 1280.2L1029.0 1275.9L1034.0 1271.6L1039.0 1267.3L1044.0 1263.1L1049.0 1258.5L1054.0 1253.9L1059.0 1232.1L1064.0 1227.2L1069.0 1222.0L1074.0 1216.8L1079.0 1211.5L1084.0 1206.3L1089.0 1201.3L1094.0 1196.4L1099.0 1191.5L1104.0 1181.3L1109.0 1149.1L1114.0 1139.5L1119.0 1135.7L1124.0 1131.9L1129.0 1128.2L1134.0 1124.4L1139.0 1120.7L1144.0 1117.0L1149.0 1113.2L1154.0 1109.4L1159.0 1105.4L1164.0 1101.4L1169.0 1097.4L1174.0 1093.4L1179.0 1089.4L1184.0 1085.5L1189.0 1081.7L1194.0 1077.8L1199.0 1073.9L1204.0 1070.1L1209.0 1066.2L1214.0 1062.4L1219.0 1058.2L1224.0 1053.6L1229.0 1049.4L1234.0 1045.6L1239.0 1042.2L1244.0 1038.9L1249.0 1035.5L1254.0 1032.2L1259.0 1029.0L1264.0 1025.8L1269.0 1022.6L1274.0 1019.4L1279.0 1016.2L1284.0 1012.9L1289.0 1009.5L1294.0 1006.2L1299.0 1002.5L1304.0 998.0L1309.0 993.4L1314.0 988.9L1319.0 984.3L1324.0 979.5L1329.0 974.7L1334.0 970.1L1339.0 966.3L1344.0 962.6L1349.0 958.9L1354.0 955.2L1359.0 950.5L1364.0 945.7L1369.0 940.9" stroke-dasharray="18 11" stroke-dashoffset="13" stroke-width="4.6"/>
<path d="M844.0 1503.2L849.0 1494.8L854.0 1487.9L859.0 1481.9L864.0 1476.4L869.0 1470.1L874.0 1463.9L879.0 1458.0L884.0 1452.2L889.0 1446.6L894.0 1441.1L899.0 1435.8L904.0 1431.2L909.0 1426.7L914.0 1422.3L919.0 1417.9L924.0 1414.1L929.0 1411.5L934.0 1409.0L939.0 1406.4L944.0 1403.9L949.0 1401.1L954.0 1398.2L959.0 1395.4L964.0 1392.6L969.0 1389.8L974.0 1386.9L979.0 1382.5L984.0 1378.1L989.0 1373.6L994.0 1369.3L999.0 1364.9L1004.0 1360.6L1009.0 1356.3L1014.0 1352.2L1019.0 1348.9L1024.0 1345.6L1029.0 1342.3L1034.0 1338.9L1039.0 1335.7L1044.0 1332.4L1049.0 1328.9L1054.0 1325.4L1059.0 1313.7L1064.0 1310.1L1069.0 1304.8L1074.0 1299.3L1079.0 1293.8L1084.0 1288.3L1089.0 1283.8L1094.0 1279.7L1099.0 1275.6L1104.0 1268.9L1109.0 1251.6L1114.0 1245.1L1119.0 1241.1L1124.0 1237.1L1129.0 1233.1L1134.0 1229.1L1139.0 1225.1L1144.0 1221.2L1149.0 1217.1L1154.0 1212.5L1159.0 1207.9L1164.0 1203.3L1169.0 1198.6L1174.0 1194.0L1179.0 1189.5L1184.0 1185.5L1189.0 1181.5L1194.0 1177.4L1199.0 1173.4L1204.0 1169.4L1209.0 1165.4L1214.0 1161.4L1219.0 1155.1L1224.0 1145.1L1229.0 1135.4L1234.0 1127.5L1239.0 1122.4L1244.0 1117.2L1249.0 1112.1L1254.0 1106.9L1259.0 1103.0L1264.0 1099.0L1269.0 1095.1L1274.0 1091.1L1279.0 1087.2L1284.0 1082.5L1289.0 1076.8L1294.0 1071.0L1299.0 1065.1L1304.0 1059.0L1309.0 1052.9L1314.0 1046.9L1319.0 1040.4L1324.0 1031.9L1329.0 1023.4L1334.0 1015.1L1339.0 1007.3L1344.0 1000.7L1349.0 994.2L1354.0 987.6L1359.0 980.2L1364.0 972.7L1369.0 965.3" stroke-dasharray="18 11" stroke-dashoffset="10" stroke-width="4.6"/>
<path d="M1262.0 1163.0L1300.0 1120.0L1318.0 1095.0L1338.0 1046.0L1354.0 1018.0L1369.0 985.0L1388.0 955.0L1410.0 922.0L1430.0 894.0L1448.0 867.0L1462.0 850.0" stroke-dasharray="60 5" stroke-dashoffset="15" stroke-width="4.6"/>
<path d="M1256.0 1160.8L1293.7 1116.7L1312.5 1089.2L1332.5 1041.7L1348.3 1014.2L1364.2 982.2L1383.3 953.3L1405.8 920.8L1426.7 893.3L1445.3 867.2L1460.8 849.7" stroke-dasharray="60 5" stroke-dashoffset="22" stroke-width="4.6"/>
<path d="M1250.0 1158.7L1287.3 1113.3L1307.0 1083.3L1327.0 1037.3L1342.7 1010.3L1359.3 979.3L1378.7 951.7L1401.7 919.7L1423.3 892.7L1442.7 867.3L1459.7 849.3" stroke-dasharray="60 5" stroke-dashoffset="3" stroke-width="4.6"/>
<path d="M1244.0 1156.5L1281.0 1110.0L1301.5 1077.5L1321.5 1033.0L1337.0 1006.5L1354.5 976.5L1374.0 950.0L1397.5 918.5L1420.0 892.0L1440.0 867.5L1458.5 849.0" stroke-dasharray="60 5" stroke-dashoffset="22" stroke-width="4.6"/>
<path d="M1238.0 1154.3L1274.7 1106.7L1296.0 1071.7L1316.0 1028.7L1331.3 1002.7L1349.7 973.7L1369.3 948.3L1393.3 917.3L1416.7 891.3L1437.3 867.7L1457.3 848.7" stroke-dasharray="60 5" stroke-dashoffset="23" stroke-width="4.6"/>
<path d="M1232.0 1152.2L1268.3 1103.3L1290.5 1065.8L1310.5 1024.3L1325.7 998.8L1344.8 970.8L1364.7 946.7L1389.2 916.2L1413.3 890.7L1434.7 867.8L1456.2 848.3" stroke-dasharray="60 5" stroke-dashoffset="25" stroke-width="4.6"/>
<path d="M1226.0 1150.0L1262.0 1100.0L1285.0 1060.0L1305.0 1020.0L1320.0 995.0L1340.0 968.0L1360.0 945.0L1385.0 915.0L1410.0 890.0L1432.0 868.0L1455.0 848.0" stroke-dasharray="60 5" stroke-dashoffset="1" stroke-width="4.6"/>
<path d="M1114.8 1120.6L1153.0 1096.0L1190.0 1070.0L1226.0 1043.0L1262.0 1022.0L1298.0 1000.0L1322.0 985.0L1345.0 966.0" stroke-dasharray="24 14" stroke-dashoffset="0" stroke-width="4.6"/>
<path d="M1199.0 983.0L1238.0 966.0L1274.0 952.0L1310.0 940.0L1346.0 930.0L1380.0 919.0L1400.0 905.0" stroke-dasharray="24 16" stroke-dashoffset="8" stroke-width="4.6"/>
<path d="M688.0 1548.0L775.0 1448.0L850.0 1364.0L930.0 1288.0L1000.0 1226.0L1060.0 1176.0L1112.0 1134.0" stroke-dasharray="24 30" stroke-dashoffset="0" stroke-width="4.6"/>
<path d="M700.0 1555.0L790.0 1476.0L850.0 1420.0L940.0 1342.0L1000.0 1292.0L1048.0 1254.0" stroke-dasharray="24 30" stroke-dashoffset="5" stroke-width="4.6"/>
</g>
<g fill="none" stroke="#646464" stroke-width="12.5" stroke-linejoin="round" stroke-linecap="round" shape-rendering="crispEdges">
<path d="M502.0 1529.0L517.0 1512.0L554.0 1469.0L595.0 1430.0L641.5 1385.6L667.0 1359.3L750.6 1287.4L834.1 1219.0L917.6 1155.5L1001.2 1095.3L1084.7 1043.0L1134.8 1018.0L1160.0 1005.5L1198.3 983.4"/>
<path d="M518.0 1651.9L504.1 1628.7L503.2 1600.9L498.6 1587.9L492.1 1569.3L495.8 1556.3L502.0 1531.0"/>
<path d="M680.5 1573.0L647.0 1587.9L624.8 1600.9L608.1 1612.0L587.7 1623.2L567.2 1634.3L543.1 1643.6L518.0 1651.9"/>
<path d="M681.0 1541.5L681.0 1584.0"/>
<path d="M681.0 1541.5L721.0 1495.0L769.7 1440.0L844.0 1357.0L879.7 1326.0L924.7 1280.0L967.7 1240.0L1051.3 1172.0L1110.0 1127.0"/>
<path d="M1110.0 1127.0L1105.0 1176.0L1081.0 1198.6L1051.6 1217.1L1054.0 1243.0L1044.2 1248.7L988.5 1295.1L943.9 1332.2L897.8 1361.7L874.6 1382.0L862.0 1397.0L845.0 1413.0L835.0 1420.0L833.0 1430.0L819.0 1444.0L803.0 1459.0L784.0 1474.0L758.4 1497.0L721.3 1530.0L686.0 1558.2L681.0 1573.0"/>
<path d="M837.6 1416.3L830.6 1455.3L820.9 1483.1L816.7 1504.0L823.7 1522.0"/>
<path d="M866.0 1399.6L865.4 1435.8L859.9 1459.5L834.8 1481.7L820.9 1504.0"/>
<path d="M1226.0 1240.0L1240.0 1210.0L1256.0 1190.0L1272.0 1168.0L1288.0 1146.0L1306.0 1120.0L1326.0 1092.0L1338.0 1060.0L1348.0 1034.0"/>
<path d="M1222.0 1250.0L1236.0 1236.0L1250.0 1216.0L1264.0 1200.0L1280.0 1176.0L1296.0 1152.0L1312.0 1128.0L1330.0 1100.0L1342.0 1066.0L1352.0 1043.0L1363.0 1010.0L1372.0 986.0"/>
<path d="M684.0 1584.0L690.0 1583.4L712.4 1571.4L724.5 1565.8L741.2 1556.5L760.6 1544.5L780.6 1527.3L794.0 1519.4L800.0 1513.8L816.7 1504.0L823.7 1522.0L845.9 1516.6L864.0 1498.5L883.5 1487.3L900.2 1474.8L922.5 1455.3L926.7 1444.0L929.5 1459.5L944.8 1453.0L950.4 1459.5L974.0 1442.8L990.7 1427.5L1013.0 1412.1L1018.6 1396.0L1021.4 1421.9L1036.7 1412.1L1064.5 1388.5L1085.4 1364.8L1089.0 1349.0L1093.0 1362.0L1112.6 1347.2L1148.0 1318.0L1150.0 1306.0L1156.0 1311.0L1178.0 1287.0L1189.0 1273.0L1193.0 1257.0L1198.0 1277.0L1217.0 1255.0L1226.0 1240.0L1232.0 1210.0L1246.0 1180.0L1262.0 1163.0L1282.0 1154.0L1300.0 1125.0L1320.0 1098.0L1338.0 1048.0L1354.0 1018.0L1369.0 987.0L1374.2 978.4"/>
<path d="M1374.2 978.4L1392.8 948.7L1411.4 922.7L1429.9 894.9L1448.5 867.1L1467.1 844.8L1485.6 829.9L1504.2 813.2L1522.7 797.0L1541.3 783.0L1559.9 770.0L1578.4 756.0L1597.0 741.0L1617.1 725.0L1654.2 693.5L1691.4 674.0L1719.2 658.2L1752.6 626.6L1771.2 620.0L1773.0 640.0L1784.2 624.8L1813.9 595.1L1839.9 572.8L1873.3 546.8L1893.7 541.3L1895.0 550.0L1914.1 525.0L1934.2 508.2L1962.1 489.6L1989.9 467.4L2008.5 454.4L2014.1 452.5L1999.2 486.0L2030.8 458.1L2017.8 482.0L2035.7 462.0L2045.6 453.5L2058.0 442.5L2080.2 425.5L2102.5 411.0L2124.8 396.5L2141.5 387.0L2152.6 378.5L2169.3 369.0L2194.1 357.8"/>
<path d="M1617.0 722.0L1606.0 738.0L1597.0 755.0L1592.0 772.0L1593.0 782.0L1600.0 776.0L1611.0 760.0L1621.0 738.0L1622.0 728.0"/>
<path d="M1612.0 736.0L1603.0 754.0L1597.0 772.0"/>
<path d="M1688.0 688.0L1672.0 702.0L1660.0 716.0L1652.0 738.0L1651.0 755.0L1660.0 750.0L1674.0 730.0L1686.0 710.0L1693.0 696.0"/>
<path d="M1676.0 712.0L1664.0 732.0L1656.0 750.0"/>
<path d="M1376.0 984.0L1396.0 953.0L1414.0 927.0L1433.0 900.0L1452.0 872.0L1470.0 850.0L1489.0 835.0L1507.0 818.0L1526.0 802.0L1540.0 794.0L1546.0 788.0L1562.0 776.0L1580.0 762.0L1600.0 745.0"/>
<path d="M2194.1 357.8L2183.8 386.8L2178.2 402.4L2169.3 418.0L2158.2 434.7L2141.5 454.7L2124.8 473.6L2112.0 491.5L2098.0 508.0L2084.0 526.0L2059.3 552.4L2033.6 580.2L2011.4 602.5L2001.0 610.0L1998.0 617.0L1978.0 634.8L1955.7 657.0L1946.8 668.2L1943.0 666.0L1936.0 678.0L1930.8 687.9"/>
</g>
<path d="M313 183H2430V1785H313ZM321 190V1778H2422V190Z" fill="#000" fill-rule="evenodd"/>
<path d="M317.0 1667.0H348.5M317.0 1553.2H348.5M317.0 1439.3H348.5M317.0 1325.5H348.5M317.0 1211.7H348.5M317.0 1097.8H348.5M317.0 870.2H348.5M317.0 756.3H348.5M317.0 642.5H348.5M317.0 528.7H348.5M317.0 414.8H348.5M317.0 301.0H348.5M317.0 1723.9H332.5M317.0 1610.1H332.5M317.0 1496.3H332.5M317.0 1382.4H332.5M317.0 1268.6H332.5M317.0 1154.8H332.5M317.0 1040.9H332.5M317.0 927.1H332.5M317.0 813.2H332.5M317.0 699.4H332.5M317.0 585.6H332.5M317.0 471.7H332.5M317.0 357.9H332.5M317.0 244.1H332.5" fill="none" stroke="#000" stroke-width="7" stroke-linecap="round"/>
<path d="M580.1 1780.0V1750.5M844.0 1780.0V1750.5M1107.8 1780.0V1750.5M1635.5 1780.0V1750.5M1899.3 1780.0V1750.5M2163.1 1780.0V1750.5M448.2 1780.0V1766.0M712.1 1780.0V1766.0M975.9 1780.0V1766.0M1239.7 1780.0V1766.0M1503.5 1780.0V1766.0M1767.4 1780.0V1766.0M2031.2 1780.0V1766.0M2295.0 1780.0V1766.0" fill="none" stroke="#000" stroke-width="8" stroke-linecap="round"/>
<g fill="none" stroke="#000" stroke-width="3.2" stroke-dasharray="14.5 9.63"><path d="M2194.2 359.0H1371.63" stroke-dashoffset="8.7"/><path d="M2194.0 358.4V984.0" stroke-dashoffset="12.6"/><path d="M519.3 1651.6H1371.63" stroke-dashoffset="2.2"/><path d="M519.3 1651.6V984.0" stroke-dashoffset="-4.7"/></g>
<path d="M1496.5 434C1683 325.9 1959.6 281.8 2168 360.5" fill="none" stroke="#000" stroke-width="2.6" stroke-linecap="round"/>
<path d="M1324 1511C1206.1 1667.3 891.1 1664.4 740 1598" fill="none" stroke="#000" stroke-width="2.6" stroke-linecap="round"/>
<path d="M711 1587.2L755 1592.8L746.4 1612.8Z" fill="#000" stroke="#000" stroke-width="1.5" stroke-linejoin="round"/>
<path d="M446.2 1278.8C307.4 1312.5 286.9 1515.8 430 1531.5" fill="none" stroke="#000" stroke-width="2.6" stroke-linecap="round"/>
<path d="M461.1 1534L417.3 1522.9L417.3 1544.8Z" fill="#000" stroke="#000" stroke-width="1.5" stroke-linejoin="round"/>
<circle cx="2194.2" cy="358.4" r="27.2" fill="#000"/>
<circle cx="519.3" cy="1651.6" r="27.2" fill="#000"/>
<path d="M501.7 1491.1L510.8 1519.1L540.2 1519.1L516.4 1536.4L525.5 1564.4L501.7 1547.1L477.9 1564.4L487.0 1536.4L463.2 1519.1L492.6 1519.1 Z" fill="#000" stroke="#000" stroke-width="4" stroke-linejoin="round"/>
<rect x="761" y="64" width="1260" height="107" fill="#000"/>
<rect x="737.5" y="40.5" width="1259" height="106" fill="#fff" stroke="#000" stroke-width="3"/>
<text class="tt" x="805.3" y="120.6">CFCC-2: Non-embeddable Type</text>
<text class="tt" x="1197.5" y="1988.3">Drift (mm)</text>
<text class="t78" transform="translate(99.9 1172.5) rotate(-90)">Load (kN)</text>
<text class="t64" text-anchor="end" x="283.5" y="1799.2">-350</text>
<text class="t64" text-anchor="end" x="283.5" y="1685.4">-300</text>
<text class="t64" text-anchor="end" x="283.5" y="1571.6">-250</text>
<text class="t64" text-anchor="end" x="283.5" y="1457.7">-200</text>
<text class="t64" text-anchor="end" x="283.5" y="1343.9">-150</text>
<text class="t64" text-anchor="end" x="283.5" y="1230.1">-100</text>
<text class="t64" text-anchor="end" x="283.5" y="1116.2">-50</text>
<text class="t64" text-anchor="end" x="283.5" y="1002.4">0</text>
<text class="t64" text-anchor="end" x="283.5" y="888.6">50</text>
<text class="t64" text-anchor="end" x="283.5" y="774.7">100</text>
<text class="t64" text-anchor="end" x="283.5" y="660.9">150</text>
<text class="t64" text-anchor="end" x="283.5" y="547.1">200</text>
<text class="t64" text-anchor="end" x="283.5" y="433.2">250</text>
<text class="t64" text-anchor="end" x="283.5" y="319.4">300</text>
<text class="t64" text-anchor="end" x="283.5" y="205.6">350</text>
<text class="t64" text-anchor="middle" x="315.8" y="1865">-40</text>
<text class="t64" text-anchor="middle" x="579.6" y="1865">-30</text>
<text class="t64" text-anchor="middle" x="843.5" y="1865">-20</text>
<text class="t64" text-anchor="middle" x="1107.3" y="1865">-10</text>
<text class="t64" text-anchor="middle" x="1371.1" y="1865">0</text>
<text class="t64" text-anchor="middle" x="1635.0" y="1865">10</text>
<text class="t64" text-anchor="middle" x="1898.8" y="1865">20</text>
<text class="t64" text-anchor="middle" x="2162.6" y="1865">30</text>
<text class="t64" text-anchor="middle" x="2426.4" y="1865">40</text>
<text class="t78" x="457" y="506.9">Ultimate Strength Point (Positive)</text>
<text class="t78" x="1180" y="1483">Ultimate Strength Point (Negative)</text>
<text class="t78" x="2019" y="274">(31.2, 275)</text>
<text class="t78" x="346" y="1768">(-32.3, -293)</text>
<text class="t78" x="397" y="1264.9">Shear Failure</text>
<text class="t78" x="396.5" y="1360.4">of Frame</text>
<text class="t78" x="1164" y="346.8">+V</text><text class="t45" x="1262" y="377.4">max</text>
<text class="t78" x="1389" y="1658.4">-V</text><text class="t45" x="1467" y="1689">max</text>
<text class="t78" x="464.5" y="918">-</text><text class="sy" x="492" y="918">δ</text><text class="t45" x="524.5" y="947.6">max</text>
<text class="t78" x="2152.5" y="1062.5">+</text><text class="sy" x="2198" y="1062.5">δ</text><text class="t45" x="2232" y="1092.6">max</text>
</svg></body></html>
